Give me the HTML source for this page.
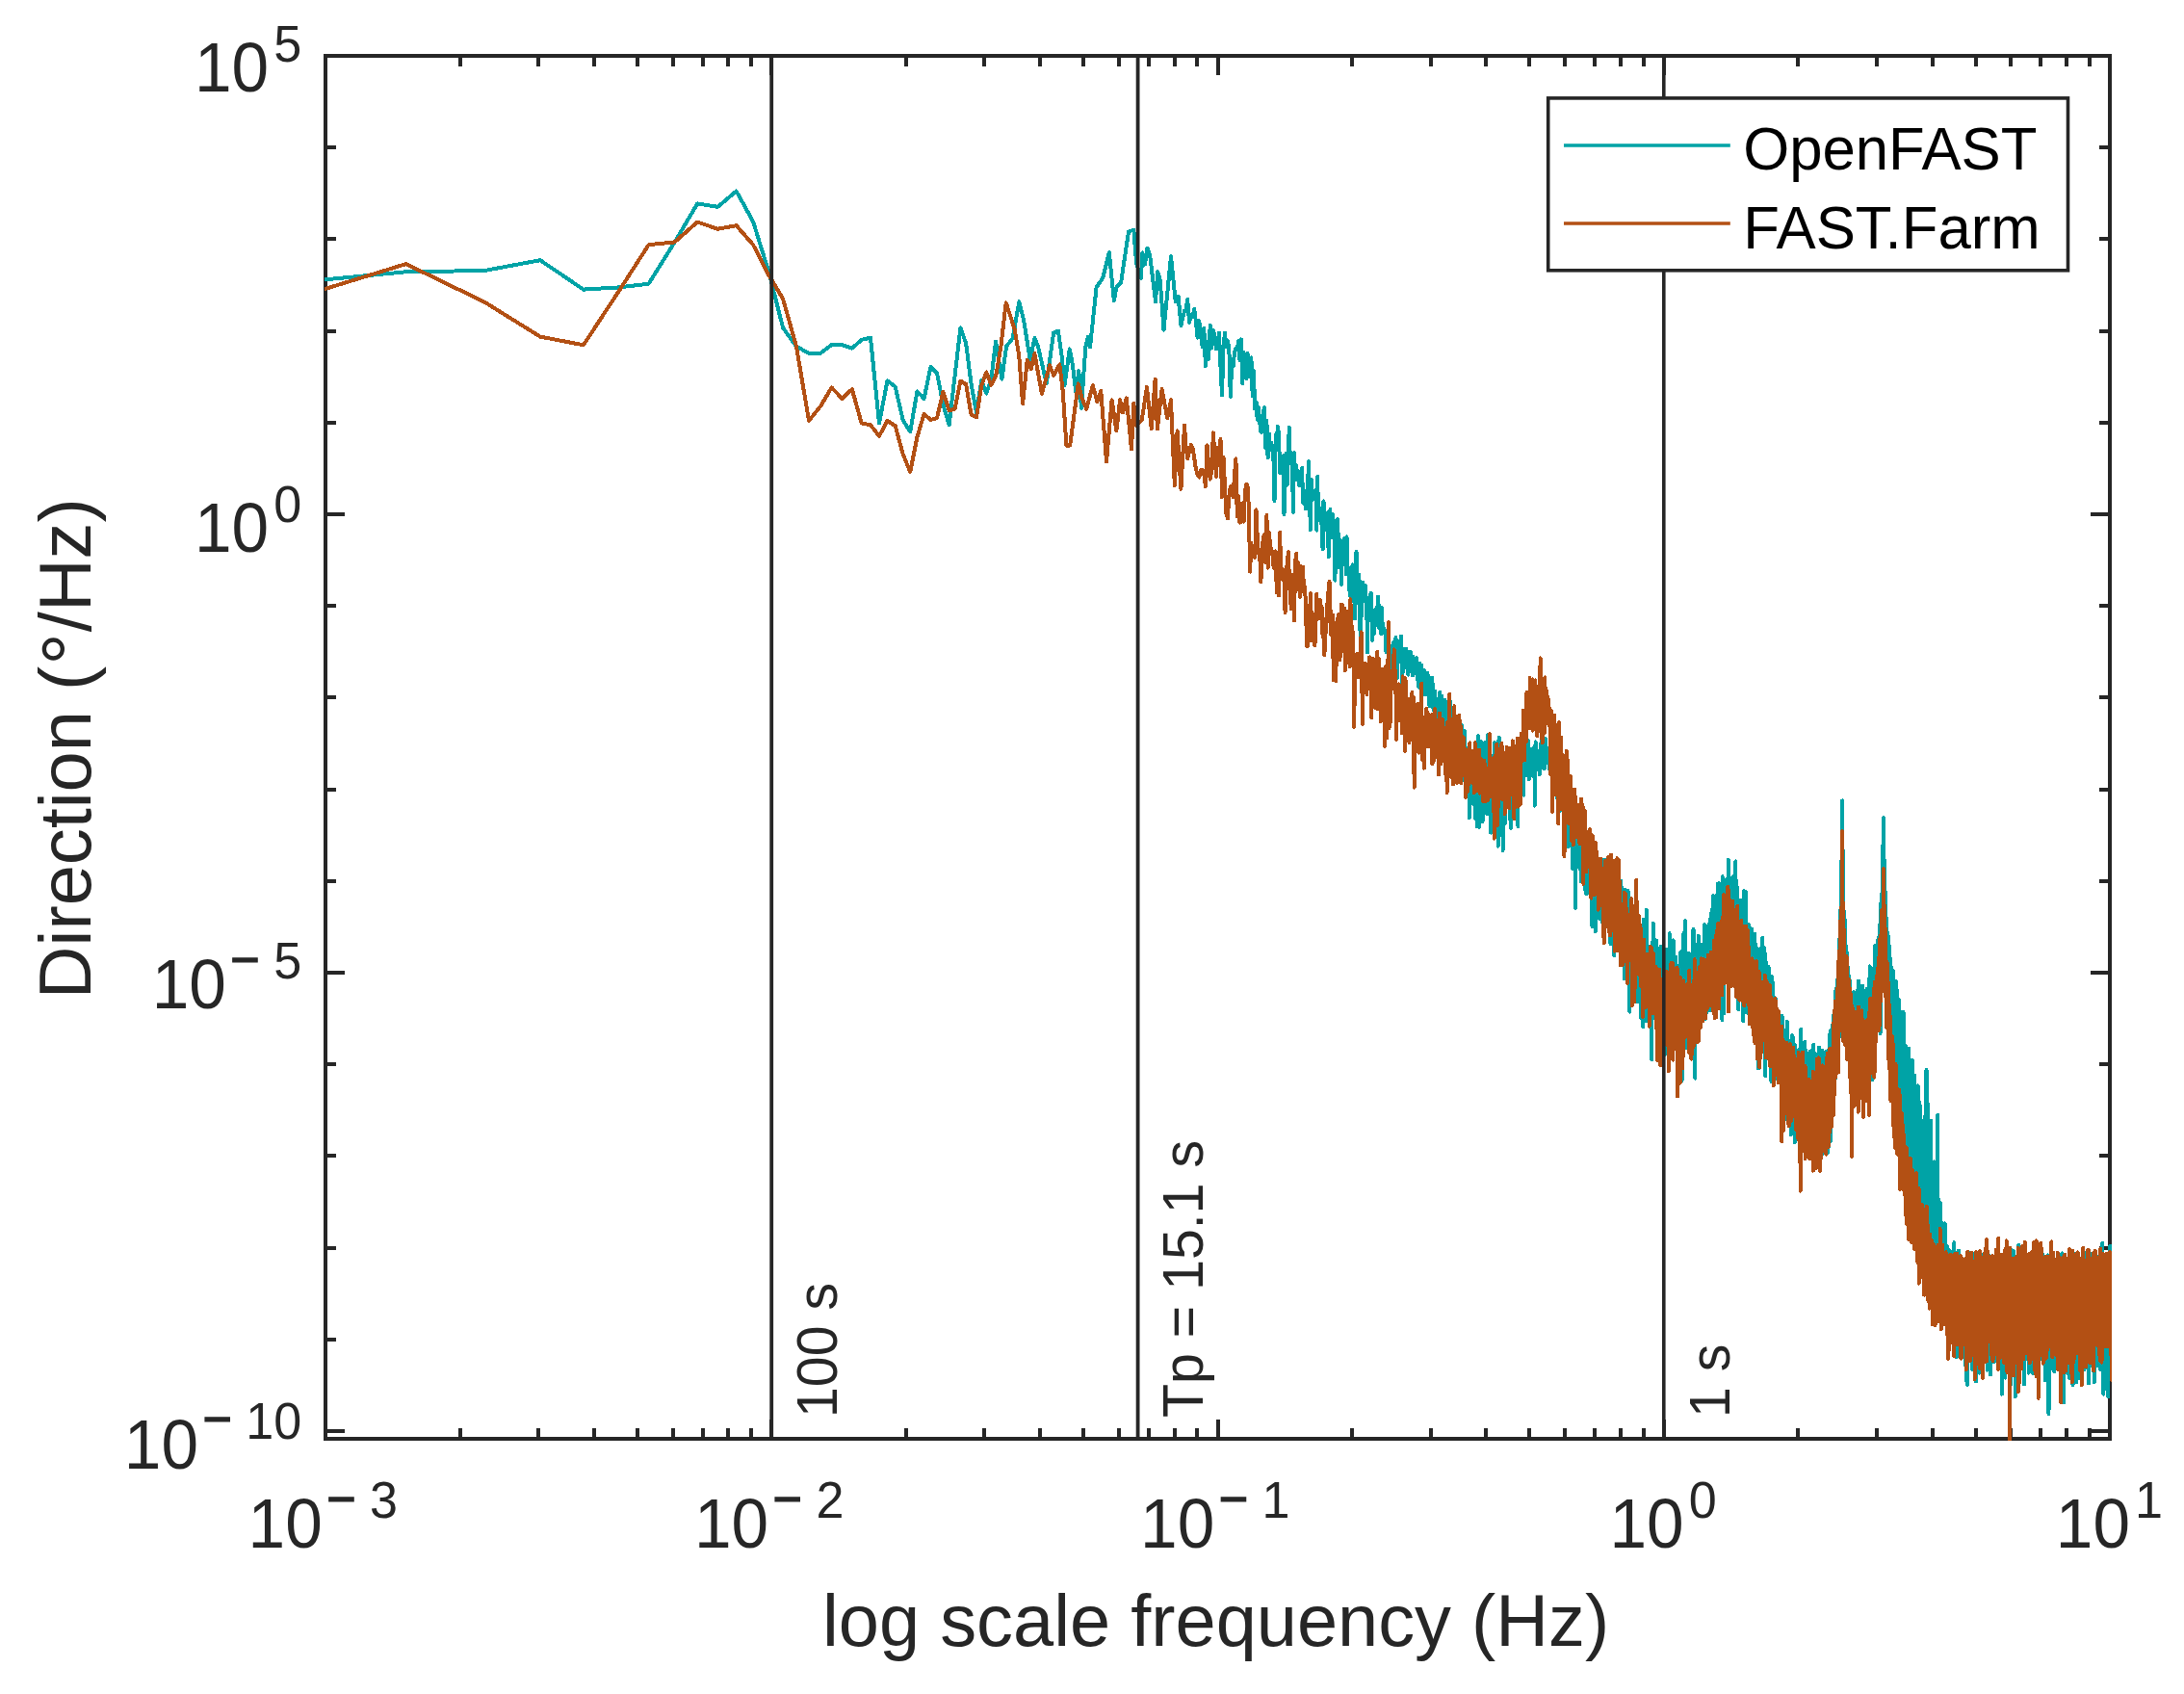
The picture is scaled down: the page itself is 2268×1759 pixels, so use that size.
<!DOCTYPE html>
<html lang="en"><head><meta charset="utf-8"><title>Direction spectrum</title>
<style>
html,body{margin:0;padding:0;background:#fff}
svg{display:block}
text{font-family:"Liberation Sans",sans-serif;}
.t{font-size:69.4px;fill:#262626}
.e{font-size:52.1px}
.l{font-size:75.8px;fill:#262626}
.m{stroke:#262626;stroke-width:1.3px}
.a{font-size:57.3px;fill:#262626}
.g{font-size:61.7px;fill:#000}
</style></head><body>
<svg width="2268" height="1759" viewBox="0 0 2268 1759">
<rect width="2268" height="1759" fill="#fff"/>
<defs><clipPath id="c"><rect x="337.0" y="56.0" width="1856.0" height="1440.0"/></clipPath></defs>
<path d="M477.5 1494.0v-11.0M477.5 58.0v11.0M559.0 1494.0v-11.0M559.0 58.0v11.0M616.9 1494.0v-11.0M616.9 58.0v11.0M661.8 1494.0v-11.0M661.8 58.0v11.0M698.5 1494.0v-11.0M698.5 58.0v11.0M729.5 1494.0v-11.0M729.5 58.0v11.0M756.4 1494.0v-11.0M756.4 58.0v11.0M780.1 1494.0v-11.0M780.1 58.0v11.0M801.2 1494.0v-20.0M801.2 58.0v20.0M940.7 1494.0v-11.0M940.7 58.0v11.0M1022.3 1494.0v-11.0M1022.3 58.0v11.0M1080.2 1494.0v-11.0M1080.2 58.0v11.0M1125.0 1494.0v-11.0M1125.0 58.0v11.0M1161.7 1494.0v-11.0M1161.7 58.0v11.0M1192.7 1494.0v-11.0M1192.7 58.0v11.0M1219.6 1494.0v-11.0M1219.6 58.0v11.0M1243.3 1494.0v-11.0M1243.3 58.0v11.0M1264.5 1494.0v-20.0M1264.5 58.0v20.0M1404.0 1494.0v-11.0M1404.0 58.0v11.0M1485.5 1494.0v-11.0M1485.5 58.0v11.0M1543.4 1494.0v-11.0M1543.4 58.0v11.0M1588.3 1494.0v-11.0M1588.3 58.0v11.0M1625.0 1494.0v-11.0M1625.0 58.0v11.0M1656.0 1494.0v-11.0M1656.0 58.0v11.0M1682.9 1494.0v-11.0M1682.9 58.0v11.0M1706.6 1494.0v-11.0M1706.6 58.0v11.0M1727.8 1494.0v-20.0M1727.8 58.0v20.0M1867.2 1494.0v-11.0M1867.2 58.0v11.0M1948.8 1494.0v-11.0M1948.8 58.0v11.0M2006.7 1494.0v-11.0M2006.7 58.0v11.0M2051.5 1494.0v-11.0M2051.5 58.0v11.0M2088.2 1494.0v-11.0M2088.2 58.0v11.0M2119.2 1494.0v-11.0M2119.2 58.0v11.0M2146.1 1494.0v-11.0M2146.1 58.0v11.0M2169.8 1494.0v-11.0M2169.8 58.0v11.0M338.0 1486.0h20.0M2191.0 1486.0h-20.0M338.0 1390.8h11.0M2191.0 1390.8h-11.0M338.0 1295.6h11.0M2191.0 1295.6h-11.0M338.0 1200.4h11.0M2191.0 1200.4h-11.0M338.0 1105.2h11.0M2191.0 1105.2h-11.0M338.0 1010.0h20.0M2191.0 1010.0h-20.0M338.0 914.8h11.0M2191.0 914.8h-11.0M338.0 819.6h11.0M2191.0 819.6h-11.0M338.0 724.4h11.0M2191.0 724.4h-11.0M338.0 629.2h11.0M2191.0 629.2h-11.0M338.0 534.0h20.0M2191.0 534.0h-20.0M338.0 438.8h11.0M2191.0 438.8h-11.0M338.0 343.6h11.0M2191.0 343.6h-11.0M338.0 248.4h11.0M2191.0 248.4h-11.0M338.0 153.2h11.0M2191.0 153.2h-11.0" stroke="#262626" stroke-width="4.0" fill="none" shape-rendering="crispEdges"/>
<rect x="338.0" y="58.0" width="1853.0" height="1436.0" fill="none" stroke="#262626" stroke-width="4"/>
<g clip-path="url(#c)" fill="none" stroke-width="4" stroke-linejoin="round" stroke-linecap="butt" shape-rendering="crispEdges">
<path stroke="#00a3a6" d="M282.1 295.6L421.6 282.3L503.2 281L561 270.2L605.9 300.6L642.6 298.4L673.6 294.7L700.5 251.7L724.2 211.4L745.4 214.8L764.6 198.5L782.1 230.1L798.2 282L813.1 340.4L827 359.9L840 366.6L852.1 366.6L863.6 358.1L874.5 358.1L884.8 361.6L894.7 352.8L904 350.7L913 439.5L921.5 395.3L929.7 401.5L937.6 436L945.2 448.4L952.5 406.3L959.6 413.9L966.4 381.1L973 387.3L979.4 420L985.6 441.3L991.6 390L997.4 340.4L1003.1 356.3L1008.6 398.8L1014 428.9L1019.2 395.3L1024.3 408.6L1029.3 393.5L1034.1 354.6L1040.4 393.6L1045.1 359.6L1051.7 351.1L1058.3 313.3L1063.1 332.2L1069.7 373.7L1074.4 351.1L1078.2 360.5L1086.7 398.3L1094.2 345.4L1098.9 343.5L1102.7 370L1105.5 400.2L1110.8 362.4L1114 379.4L1117.3 407.7L1120.3 385.1L1122.9 423.8L1127.3 360.5L1129.7 350.1L1132 360.5L1138.6 298.2L1145.2 288.8L1151.8 262.3L1156.9 312.4L1159.4 298.2L1164.1 293.5L1172 240.6L1177.3 238.7L1180.1 273.7L1184.9 288.8L1186.4 262.3L1189 274.6L1191.5 257.6L1194.3 266.1L1200 313.3L1202.2 282.2L1204.7 290.7L1208.5 342.6L1216 266.1L1220.7 313.3L1223.6 307.6L1226.4 337.9L1230 322.8L1231.4 321.9L1233.2 310.9L1235 334.7L1236.8 327.1L1238.5 328.9L1240.2 320.9L1241.9 333.6L1243.6 350.7L1245.3 333.1L1247 348L1248.7 360.2L1250.3 340.9L1251.9 380.2L1253.5 355L1255.1 372.7L1256.7 337.7L1258.3 361.4L1259.9 343.2L1261.4 347.9L1263 362.4L1264.5 355.9L1266 345.8L1267.5 380.9L1269 410.1L1270.5 361.3L1272 345.4L1273.4 360.1L1274.9 354.1L1276.3 360.6L1277.8 411.8L1279.2 377.1L1280.6 380.5L1282 365.7L1283.4 361.4L1284.8 363.3L1286.2 354.2L1287.5 374.2L1288.9 352.4L1290.2 398.4L1291.6 366.1L1292.9 388.3L1294.2 393.1L1295.5 367L1296.8 391.1L1298.1 388.8L1299.4 371.5L1300.7 411.1L1301.9 384.9L1303.2 424.7L1304.5 417.3L1305.7 435.7L1306.9 423.2L1308.2 437.9L1309.4 448.5L1310.6 448.7L1311.8 429.1L1313 423.4L1314.2 465.2L1315.4 437.1L1316.6 475.3L1317.8 450.3L1318.9 467.4L1320.1 459.6L1321.2 464.1L1322.4 474.7L1323.5 519.9L1324.7 451.7L1325.8 456.9L1326.9 442.8L1328 449.9L1329.1 490.8L1330.2 487.5L1331.3 490.9L1332.4 473.4L1333.5 534L1334.6 477.6L1335.6 471L1336.7 503.7L1337.8 469.8L1338.8 443.8L1339.9 480.6L1340.9 478.1L1342 487.3L1343 531.7L1344 470.1L1345.1 492.8L1346.1 483.4L1347.1 491.3L1348.1 497.3L1349.1 504.2L1350.1 493.4L1351.1 490.6L1352.1 485.8L1353.1 522.2L1354 519.3L1355 520.7L1356 528.2L1357 509.6L1357.9 511.8L1358.9 479.1L1359.8 504.9L1360.8 550.3L1361.7 497.6L1362.6 513.5L1363.6 518.6L1364.5 514.7L1365.4 510.2L1366.4 508.4L1367.3 550.6L1368.2 494.7L1369.1 539.6L1370 539.5L1370.9 529.2L1371.8 528.5L1372.7 549.1L1373.6 570.3L1374.5 520.3L1375.3 538.5L1376.2 544.8L1377.1 537.6L1378 551L1378.8 532.1L1379.7 578L1380.5 550.3L1381.4 529.1L1382.2 558L1383.1 534.1L1383.9 534.3L1384.8 541.6L1385.6 542.5L1386.4 602.6L1387.3 549.7L1388.1 555.7L1388.9 539.2L1389.7 557.2L1390.6 589.4L1391.4 563.4L1392.2 561.1L1393 606.7L1393.8 568.9L1394.6 571.3L1395.4 567.6L1396.2 558.6L1397 572.1L1397.8 596.3L1398.5 557.5L1399.3 586.7L1400.1 592.2L1400.9 597.6L1401.7 618.8L1402.4 598.7L1403.2 595L1404 589.5L1404.7 586.5L1405.5 623.9L1406.2 604.1L1407 642.4L1407.7 592.1L1408.5 572.8L1409.2 603.1L1410 626.3L1410.7 612.6L1411.4 596.9L1412.2 631L1412.9 683.7L1413.6 635.3L1414.3 622.3L1415.1 604.9L1415.8 618.7L1416.5 617.7L1417.2 616.3L1417.9 607.7L1418.6 628.4L1419.4 637L1420.1 677.4L1420.8 624.1L1421.5 620.3L1422.2 628.5L1422.8 636.1L1423.5 615.6L1424.2 617.8L1424.9 664.9L1425.6 634.4L1426.3 637.3L1427 657.8L1427.6 643.5L1428.3 632.5L1429 635.1L1429.7 630.3L1430.3 649.1L1431 619.6L1431.7 629.4L1432.3 652.5L1433 643.3L1433.7 638.7L1434.3 658.3L1435 631.2L1435.6 647.9L1436.3 650.3L1436.9 653.4L1437.6 655.7L1438.2 657.7L1438.8 657.9L1439.5 677L1440.1 671.2L1440.8 669.8L1441.4 653.5L1442 656.1L1442.7 673.3L1443.3 676.5L1443.9 672.1L1444.5 674.9L1445.2 673L1445.8 695.6L1446.4 678L1447 667.3L1447.6 702.9L1448.2 689.9L1448.8 682L1449.5 661.9L1450.1 691.2L1450.7 704.2L1451.3 667.4L1451.9 686.6L1452.5 666.5L1453.1 687.1L1453.7 674.6L1454.3 685.2L1454.9 660.5L1455.4 684.1L1456 710.4L1456.6 697L1457.2 673.7L1457.8 685.4L1458.4 674.7L1459 692.9L1459.5 675.5L1460.1 673.7L1460.7 681.9L1461.3 676.2L1461.8 684.1L1462.4 700.7L1463 690.6L1463.5 687.3L1464.1 683.2L1464.7 676.5L1465.2 683.5L1465.8 690.8L1466.4 685.7L1466.9 701.6L1467.5 681.9L1468 686.8L1468.6 699.4L1469.1 686.7L1469.7 697.1L1470.2 684.4L1470.8 683.3L1471.3 693.7L1471.9 693.9L1472.4 706.7L1472.9 702.8L1473.5 713.7L1474 692L1474.6 688.9L1475.1 715.1L1475.6 704.4L1476.2 691L1476.7 701.9L1477.2 712.2L1477.8 712.4L1478.3 701.2L1478.8 695.5L1479.3 711.8L1479.9 721.4L1480.4 698.5L1480.9 698.8L1481.4 711.7L1481.9 714.3L1482.5 699.1L1483 718.6L1483.5 707.3L1484 712.5L1484.5 733.3L1485 714.4L1485.5 732.3L1486 728.2L1486.5 730.6L1487 703.7L1487.5 708.4L1488.1 735L1488.6 734.3L1489.1 737.5L1489.6 718.7L1490 717.5L1490.5 736.1L1491 750.8L1491.5 749.9L1492 752.8L1492.5 726.2L1493 738.7L1493.5 731.2L1494 726.5L1494.5 750.3L1495 731.4L1495.4 718.8L1495.9 749.5L1496.4 737.5L1496.9 722.4L1497.4 736.2L1497.8 726.3L1498.3 761L1498.8 729.7L1499.3 741.9L1499.7 747L1500.2 726.8L1500.7 748.1L1501.2 733L1501.6 748.7L1502.1 742.6L1502.6 756.4L1503 756.1L1503.5 753.3L1504 753.2L1504.4 727.2L1504.9 750.6L1505.3 788.6L1505.8 774.6L1506.3 728.4L1506.7 743.3L1507.2 739.1L1507.6 801.4L1508.1 759.9L1508.5 748.2L1509 748.9L1509.4 778.3L1509.9 754.7L1510.3 755.5L1510.8 757.2L1511.2 777.6L1511.7 767.8L1512.1 777.4L1512.6 763.1L1513 749L1513.5 796.9L1513.9 751.4L1514.4 794.7L1514.8 792.1L1515.2 755.4L1515.7 779L1516.1 783.8L1516.5 768.6L1517 783L1517.4 778.4L1517.8 753L1518.3 810.5L1518.7 807.5L1519.1 784.2L1519.6 807L1520 804.6L1520.4 808.5L1520.8 758.5L1521.3 768.3L1521.7 800L1522.1 789.2L1522.5 780.5L1523 777.1L1523.4 827.2L1523.8 800.1L1524.2 812.6L1524.6 785.6L1525.1 806.1L1525.5 813.6L1525.9 849.2L1526.3 836.4L1526.7 828.9L1527.1 797.4L1527.6 834L1528 830L1528.4 815.8L1528.8 828.1L1529.2 813.9L1529.6 781.7L1530 834.4L1530.4 813.6L1530.8 834.6L1531.2 814.3L1531.6 843.3L1532 849.8L1532.4 806.3L1532.8 801.9L1533.2 846.6L1533.6 851.5L1534 858.2L1534.4 835.8L1534.8 764.2L1535.2 852.5L1535.6 791L1536 858.9L1536.4 791.7L1536.8 839.2L1537.2 790.1L1537.6 827.5L1538 770.3L1538.4 795.5L1538.8 801.9L1539.2 810.8L1539.6 853.1L1539.9 826.1L1540.3 800.8L1540.7 841.8L1541.1 820.1L1541.5 840.8L1541.9 805.1L1542.3 770.8L1542.6 821.5L1543 804.9L1543.4 829.4L1543.8 811.8L1544.2 845.5L1544.5 794.5L1544.9 805L1545.3 762.9L1545.7 793.1L1546.1 815.4L1546.4 793.1L1546.8 809.4L1547.2 814.7L1547.6 791.7L1547.9 864.2L1548.3 864.6L1548.7 816.7L1549 792.7L1549.4 810.9L1549.8 784.6L1550.1 811.7L1550.5 818.8L1550.9 793.7L1551.3 805.1L1551.6 811.7L1552 771.3L1552.3 811.5L1552.7 803.3L1553.1 807.5L1553.4 859L1553.8 851L1554.2 849.6L1554.5 819.5L1554.9 804.2L1555.2 786.2L1555.6 878.6L1556 825.4L1556.3 771.8L1556.7 765.6L1557 799.2L1557.4 766.8L1557.7 831.2L1558.1 856.5L1558.4 822.1L1558.8 810.9L1559.2 789.7L1559.5 799.1L1559.9 811L1560.2 819.1L1560.6 883.2L1560.9 818.2L1561.3 859.1L1561.6 841.7L1562 835L1562.3 799.9L1562.6 802.1L1563 816.8L1563.3 854.9L1563.7 816.1L1564 788.2L1564.4 799.3L1564.7 802.1L1565.1 826.2L1565.4 835L1565.7 808.4L1566.1 790.5L1566.4 820.6L1566.8 805.3L1567.1 789.5L1567.4 832.6L1567.8 821.1L1568.1 850.7L1568.5 836L1568.8 859.8L1569.1 818L1569.5 793.9L1569.8 804.4L1570.1 810.1L1570.5 804.1L1570.8 842.1L1571.1 833.1L1571.5 804.7L1571.8 823.8L1572.1 822.9L1572.4 814.3L1572.8 827.1L1573.1 809L1573.4 775.6L1573.8 807L1574.1 814.6L1574.4 798.7L1574.7 800.9L1575.1 841.7L1575.4 773.5L1575.7 806.3L1576 826.8L1576.4 858.1L1576.7 790.9L1577 792L1577.3 770.9L1577.7 824.2L1578 781.8L1578.3 786.3L1578.6 818.6L1578.9 779L1579.3 805.2L1579.6 815.9L1579.9 789.9L1580.2 818.6L1580.5 796.2L1580.8 796.2L1581.2 787.8L1581.5 791.8L1581.8 789.2L1582.1 825.7L1582.4 797.2L1582.7 795.6L1583 790.6L1583.4 798.9L1583.7 771.5L1584 797L1584.3 787.5L1584.6 782.6L1584.9 788.1L1585.2 805.6L1585.5 796.2L1585.8 787.7L1586.2 800.7L1586.5 782.1L1586.8 768.4L1587.1 787.7L1587.4 787.7L1587.7 809.4L1588 792.4L1588.3 795.6L1588.6 781.3L1588.9 797.6L1589.2 793.1L1589.5 793.7L1589.8 777.6L1590.1 802.2L1590.4 797.4L1590.7 804.5L1591 780.1L1591.3 800.5L1591.6 786.6L1591.9 778L1592.2 805.8L1592.5 784L1592.8 783.7L1593.1 791.4L1593.4 775.1L1593.7 836.6L1594 782.5L1594.3 778.2L1594.6 770.3L1594.9 775.3L1595.2 776.2L1595.5 792.7L1595.8 780.8L1596.1 787.2L1596.4 783L1596.7 779.4L1596.9 789.3L1597.2 791.9L1597.5 795L1597.8 785.6L1598.1 784.9L1598.4 799L1598.7 804.1L1599 783.5L1599.3 782.9L1599.6 798.6L1599.8 788.8L1600.1 786.6L1600.4 772.1L1600.7 769.3L1601 790.4L1601.3 767.7L1601.6 779.8L1601.9 776L1602.1 769.7L1602.4 795.4L1602.7 786.7L1603 780.1L1603.3 786L1603.6 785.2L1603.8 798.4L1604.1 795L1604.4 787.4L1604.7 790.5L1605 783.8L1605.2 767.2L1605.5 786.5L1605.8 789.3L1606.1 783.3L1606.4 792L1606.6 789.4L1606.9 779.5L1607.2 779.2L1607.5 777.1L1607.7 779.8L1608 783L1608.3 778.7L1608.6 787L1608.9 779.2L1609.1 798.3L1609.4 774.9L1609.7 789.3L1610 783.9L1610.2 787.5L1610.5 784L1610.8 799.2L1611 788.6L1611.3 787.7L1611.6 788.4L1611.9 804.1L1612.1 784L1612.4 795.1L1612.7 784.9L1612.9 793.8L1613.2 804.3L1613.5 806L1613.7 800.3L1614 822.8L1614.3 797.9L1614.6 805.7L1614.8 796.2L1615.1 812.1L1615.4 808L1615.6 822.7L1615.9 816.1L1616.2 808.1L1616.4 812.5L1616.7 820.1L1616.9 819L1617.2 810.9L1617.5 830L1617.7 794.5L1618 815.3L1618.3 854L1618.5 800.9L1618.8 842.9L1619 815.5L1619.3 805.9L1619.6 812.9L1619.8 804.8L1620.1 805.8L1620.4 825.1L1620.6 835.2L1620.9 824.9L1621.1 841L1621.4 823.6L1621.6 838L1621.9 816L1622.2 829.7L1622.4 833.3L1622.7 837.9L1622.9 819.2L1623.2 836.8L1623.4 828.4L1623.7 815.8L1624 822.6L1624.2 848L1624.5 830.5L1624.7 819.3L1625 838.7L1625.2 870.8L1625.5 849.4L1625.7 850.5L1626 840.2L1626.2 809.7L1626.5 832.4L1626.7 851.8L1627 827.7L1627.3 866.3L1627.5 851.8L1627.8 837.2L1628 851.7L1628.3 822.8L1628.5 826.5L1628.8 879.5L1629 844.7L1629.5 872.1L1629.7 874.2L1630 864.3L1630.2 859.3L1630.5 833.9L1630.7 845.8L1631 851L1631.2 854.3L1631.5 877.4L1631.7 867.4L1632 844.7L1632.2 849.9L1632.5 853.5L1632.7 891.1L1632.9 855.1L1633.2 902.3L1633.4 887.2L1633.7 854L1633.9 872L1634.2 846.3L1634.4 900.9L1634.6 856.4L1634.9 843.6L1635.1 840.1L1635.4 865.4L1635.6 840.2L1635.9 942.9L1636.1 888.8L1636.3 880.6L1636.6 860.3L1636.8 891.7L1637.1 865.6L1637.3 860.6L1637.5 841.7L1637.8 867.8L1638 894.1L1638.5 852.2L1638.7 900L1639 862.1L1639.2 871.7L1639.4 857.3L1639.7 868.3L1639.9 865.4L1640.1 860.2L1640.4 859.2L1640.6 902L1640.8 869.4L1641.1 879.7L1641.3 872.1L1641.6 852.8L1641.8 880.5L1642 915.2L1642.5 866.2L1642.7 897.6L1642.9 885L1643.2 879.6L1643.4 881.8L1643.6 888.9L1643.9 856.4L1644.1 874.5L1644.3 901.4L1644.6 910.5L1644.8 906.1L1645 868.6L1645.5 876.4L1645.7 891.6L1645.9 878.2L1646.2 890.9L1646.4 924.3L1646.6 887.9L1646.9 907.1L1647.1 906.6L1647.3 928.1L1647.5 901.6L1648 926.5L1648.2 912.2L1648.4 926.9L1648.7 892.2L1648.9 914.9L1649.1 900.6L1649.4 872.8L1649.6 897L1649.8 912.3L1650 892.7L1650.5 908.6L1650.7 903.3L1650.9 911.2L1651.1 919.5L1651.4 918L1651.6 901.3L1651.8 923.1L1652 882.4L1652.3 904.1L1652.7 905.2L1652.9 876.6L1653.1 890.8L1653.4 962.1L1653.6 887.5L1653.8 958.7L1654 945.6L1654.5 915.3L1654.7 925.8L1654.9 904.5L1655.1 890.4L1655.3 925.2L1655.6 887.1L1655.8 913.9L1656.2 900.3L1656.4 908.2L1656.6 921.3L1656.9 967.1L1657.1 894.9L1657.3 934.8L1657.5 901.8L1657.9 924.5L1658.2 902.6L1658.4 929.9L1658.6 948L1658.8 913L1659 926.3L1659.4 943.2L1659.7 952.7L1659.9 899.5L1660.1 914.4L1660.3 895.6L1660.5 948.7L1660.9 922.1L1661.2 922.1L1661.4 953.8L1661.6 926.9L1662 949.1L1662.2 939.3L1662.4 953.4L1662.6 931.6L1662.8 926.3L1663.1 935.5L1663.5 897.6L1663.7 922.5L1663.9 908.4L1664.1 957.5L1664.3 915.1L1664.7 955.5L1664.9 897.5L1665.1 951.2L1665.4 904.7L1665.6 932L1666 892.8L1666.2 905.1L1666.4 916.3L1666.6 940.6L1666.8 943.3L1667 936.6L1667.4 924.4L1667.6 921.6L1667.8 944L1668 943.4L1668.2 906.7L1668.6 945.2L1668.9 921.1L1669.1 907.4L1669.5 947.6L1669.7 933.8L1669.9 957L1670.1 936L1670.5 963.2L1670.7 930.3L1670.9 941.1L1671.1 958.7L1671.5 913.2L1671.7 942.2L1671.9 909L1672.3 912.3L1672.5 980L1672.7 917.9L1672.9 921.9L1673.1 916.8L1673.3 921.9L1673.7 935.3L1673.9 957.4L1674.3 942L1674.5 902.7L1674.7 945.8L1674.9 927.3L1675.3 919.7L1675.5 961.4L1675.7 930L1675.9 936.8L1676.1 927.6L1676.3 992.1L1676.7 924.4L1676.9 930.4L1677.1 893.8L1677.4 957.4L1677.6 925.4L1677.8 914.4L1678 912.7L1678.2 984.9L1678.6 936.4L1678.8 923.8L1679 970.9L1679.2 914.2L1679.6 959.6L1680 932.6L1680.2 959.2L1680.4 922.4L1680.6 932L1680.7 942.6L1681.1 932.7L1681.3 929.5L1681.7 939.3L1681.9 925.2L1682.3 929.9L1682.5 954.8L1682.7 948L1682.9 940.7L1683 959L1683.4 915L1683.8 932.5L1684 983.3L1684.2 952.5L1684.4 986.9L1684.8 960.3L1684.9 939.9L1685.1 941.4L1685.3 964.3L1685.7 938.2L1685.9 989.6L1686.1 934.4L1686.4 973.3L1686.6 1015.9L1686.8 951.6L1687 1003L1687.4 924.1L1687.7 961.2L1687.9 996.5L1688.1 973L1688.5 947.6L1688.7 953L1688.9 986.6L1689 957.8L1689.4 973.7L1689.6 980.6L1690 944.9L1690.2 981.5L1690.3 1006.9L1690.5 924.6L1690.7 961.1L1691.1 958.8L1691.3 980.6L1691.6 935.7L1691.8 1011.9L1692.2 960.3L1692.3 1050.6L1692.7 992.2L1692.9 967.9L1693.1 981.9L1693.3 999.7L1693.6 985.3L1694 950L1694.2 989.7L1694.3 1015.2L1694.7 1008.9L1694.9 947.9L1695.1 1023.9L1695.2 982.5L1695.6 978.8L1695.8 963.1L1696.1 1001.1L1696.3 1006.5L1696.7 1000.2L1696.8 986L1697 952.5L1697.2 1018.2L1697.5 975.3L1697.7 1013.7L1698.1 1021.8L1698.4 987.4L1698.8 1019.5L1699 985.8L1699.1 991.8L1699.5 1039.9L1699.7 1021.2L1699.8 977.2L1700 936.6L1700.2 1014.5L1700.5 1034.8L1700.9 975.6L1701.2 1001.9L1701.4 1022L1701.6 1026.4L1701.8 958.8L1702.1 999L1702.3 1037.1L1702.6 1040.5L1702.8 981.6L1703.1 972.1L1703.5 1029.9L1703.7 1056.6L1704 993.3L1704.2 1000.2L1704.3 991.1L1704.5 996.7L1704.9 971.4L1705 1015.8L1705.4 977.3L1705.7 1012.7L1705.9 983.2L1706 1012.8L1706.4 1066.2L1706.6 1012.1L1706.9 954.6L1707.2 990.2L1707.4 1013.1L1707.6 976L1707.7 1026.7L1708.1 956.6L1708.4 1014.1L1708.7 1011.2L1708.9 996.6L1709.1 988.2L1709.4 1012.5L1709.6 1060L1709.7 944.9L1710.2 976.6L1710.4 1042.4L1710.6 993.4L1710.7 1009.8L1711.2 1007.1L1711.4 1026.1L1711.7 1012.5L1711.9 1040L1712.1 1026.6L1712.4 1003.1L1712.6 1036.3L1712.7 983L1713.2 1058L1713.4 999.8L1713.7 999.8L1713.9 1032.2L1714 1024.1L1714.4 984.5L1714.5 1018.3L1714.7 1005.8L1715 1010.2L1715.2 1100.3L1715.7 1015.6L1716 978.6L1716.3 1053L1716.5 1010.4L1716.8 1034.3L1716.9 958.8L1717.1 996.5L1717.4 1028.4L1717.6 1030L1717.8 1007.1L1718.2 1046.4L1718.4 992L1718.6 998.2L1718.9 1057L1719 996.6L1719.2 1049.7L1719.8 976.3L1720 1034.9L1720.1 996.3L1720.5 1040.4L1720.6 1058.1L1720.8 1008.4L1721.1 986.6L1721.2 1037.8L1721.6 1072.8L1721.7 1029.5L1722 1036.8L1722.2 995.6L1722.7 1000.2L1722.8 1068.6L1723.1 1014.5L1723.3 1063.1L1723.7 995.8L1723.9 1040L1724.1 1005.3L1724.2 1094.1L1724.5 982.8L1724.8 1053.7L1725.3 1003.2L1725.5 1021.1L1725.6 990.8L1725.8 1018.3L1726.2 1026.6L1726.4 1056.1L1726.7 993L1726.8 1041.3L1727.3 1006.7L1727.4 1046.3L1727.6 1017.7L1727.8 1002.4L1728.2 1015.9L1728.4 1020.7L1728.8 1051.9L1729 989.5L1729.3 1024.6L1729.4 1094.6L1729.6 1030L1729.9 998.7L1730.2 1005.5L1730.3 1066L1730.6 986.1L1730.9 1045.1L1731.2 1070.2L1731.4 1033.6L1731.5 1061L1731.7 1005.4L1732.1 997.8L1732.4 1041.5L1732.6 1019.3L1732.9 992.5L1733.2 1030.7L1733.5 1003.2L1733.6 969.2L1733.9 1056.1L1734.1 1074.6L1734.5 994.8L1734.8 1027.4L1734.9 994L1735.1 1028.6L1735.2 1009.2L1735.5 993.1L1735.7 1055.6L1736.1 1008.3L1736.4 1057.8L1736.5 1045.9L1736.7 1015L1737.1 1030.7L1737.3 1017.8L1737.6 1021.7L1737.7 976.3L1738 1044.7L1738.3 1008.9L1738.6 1017.8L1738.9 1036L1739.2 1046.1L1739.3 1013.9L1739.7 1003.8L1739.9 1018.4L1740.2 1035.4L1740.4 994L1740.6 1015.9L1740.7 1040.2L1741.3 1039.4L1741.4 1050L1741.6 1076.6L1741.9 1002.9L1742 1035.4L1742.2 1009.3L1742.6 1026.8L1742.7 1005.4L1743 1009.1L1743.4 1049.6L1743.6 1027.8L1744 1050.3L1744.1 1010.6L1744.3 1052.2L1744.6 1041.6L1745 990.2L1745.1 1033L1745.3 988.4L1745.5 1008.4L1746 1109.6L1746.1 1023.6L1746.2 1094.8L1746.5 1015.6L1746.6 1122.1L1747.2 1024.5L1747.3 1069L1747.6 1029.7L1747.8 1045.8L1748.2 1041.5L1748.4 969L1748.7 1031L1749 976.1L1749.1 1036.4L1749.4 1051.4L1749.5 1052.9L1750 1013.6L1750.1 1062.2L1750.2 956.1L1750.6 1012L1750.8 1062.6L1751.2 1020.6L1751.4 1065.1L1751.6 1088.1L1751.7 1025.6L1752.3 1035.9L1752.4 1004.9L1752.7 1012.2L1752.8 1054.3L1753.1 995.9L1753.3 1062.7L1753.7 990L1753.9 1033.8L1754 1010.5L1754.4 1052.2L1754.5 1073.4L1754.8 1039.6L1755.2 1007.4L1755.5 1048.7L1755.7 1075.7L1755.9 1039.7L1756 1062.2L1756.1 1034.3L1756.5 1099.8L1756.8 999.7L1757.1 1073L1757.3 1030.5L1757.7 1018.6L1758 1061.1L1758.1 1045.7L1758.4 993.1L1758.5 964.8L1758.6 1046.5L1759 994.1L1759.4 1056.9L1759.5 1072L1759.7 994.7L1760.3 1119.6L1760.5 986.6L1760.7 1019.9L1760.8 1042.1L1761.2 1003.4L1761.5 1047.8L1761.6 1029L1761.9 1006.4L1762.3 1025.5L1762.4 985.5L1762.5 991.9L1762.8 1008.3L1763.2 980.4L1763.4 1016L1763.8 1045.2L1763.9 971.9L1764 982.7L1764.4 1057.4L1764.6 1058.6L1764.9 1004.5L1765.1 1058.8L1765.4 1016.2L1765.8 1049.3L1765.9 999.5L1766.2 1036.7L1766.3 993L1766.8 980.6L1767 1054.2L1767.1 995.9L1767.3 1052.6L1767.6 1055.9L1767.7 998.3L1768.3 1011.3L1768.5 1033.7L1768.6 1005.1L1768.7 987.7L1769.1 1050.6L1769.4 985.4L1769.7 1046.1L1769.9 960.1L1770.1 986.6L1770.2 1041.6L1770.6 960.6L1770.9 1057.8L1771.1 1014.6L1771.4 1052.6L1771.5 1000.1L1771.9 1051.6L1772.3 1027.2L1772.4 989.5L1772.5 1043.9L1772.6 996.6L1773 1029.5L1773.5 979.3L1773.6 994.9L1773.9 1037.3L1774.2 1031.2L1774.5 959.7L1774.7 961.1L1774.9 1010.4L1775.1 978.8L1775.4 1007L1775.7 966.9L1775.9 1049L1776.1 1047L1776.4 958.8L1776.6 948.2L1776.7 1012.1L1777.1 963.1L1777.2 1013L1777.6 944.6L1777.9 1001.7L1778.1 985.4L1778.4 975.2L1778.6 967.5L1778.8 1011.1L1779 930.2L1779.1 1007.1L1779.6 1010L1779.9 981.2L1780.1 1020.2L1780.4 987.1L1780.5 970.9L1780.9 1050.5L1781 990.8L1781.1 946L1781.7 1005.1L1781.8 968.9L1782.3 996.7L1782.4 929.7L1782.6 1026L1782.7 982.3L1783.2 989.4L1783.3 950.5L1783.7 957.3L1783.9 1002.4L1784 917.4L1784.1 989.5L1784.7 951.9L1784.9 917.2L1785.1 933L1785.4 991.9L1785.5 936.2L1785.7 1021.9L1786.1 951.7L1786.4 1032.7L1786.7 924.7L1787 960.8L1787.1 947.4L1787.3 962.2L1787.6 946.8L1787.9 1010.7L1788 948.3L1788.4 1059L1788.6 910.2L1788.9 972.4L1789.3 983.8L1789.4 917.4L1789.8 937.7L1789.9 964L1790.4 1052L1790.5 918.8L1790.7 942.8L1790.8 1013.4L1791 940L1791.2 988.5L1791.8 1004L1791.9 951.7L1792.2 992.5L1792.4 928.1L1792.6 922.9L1792.9 972.8L1793 913.3L1793.5 954.4L1793.8 920L1793.9 989.4L1794 938L1794.4 976.5L1794.6 964.2L1794.7 892.7L1795 930L1795.4 988.7L1795.7 976.7L1795.9 935.3L1796.2 931.5L1796.4 978.8L1796.7 930.8L1797 989.2L1797.3 973.7L1797.4 933.8L1797.7 983.4L1797.9 924L1798.1 928L1798.4 985.6L1798.7 951.1L1798.8 913.3L1799.1 977L1799.4 910.4L1799.5 921.2L1800 994.5L1800.1 920.9L1800.3 1005.7L1800.7 996.9L1800.9 941.1L1801.1 934L1801.4 995.9L1801.6 1009.6L1801.7 927.1L1802.1 999.6L1802.3 894.4L1802.5 942.2L1802.9 1030L1803 967.9L1803.3 915L1803.9 928.9L1804 965.4L1804.3 951.4L1804.4 985.1L1804.8 948.3L1804.9 979.9L1805.3 1048L1805.4 942.7L1805.6 1029.3L1805.9 960.8L1806.3 1034.5L1806.4 949.2L1806.9 999.2L1807 944L1807.3 997.1L1807.5 940.9L1807.6 934.9L1807.8 992L1808.1 956.3L1808.3 982.7L1808.5 955.6L1808.8 1031.7L1809 1002.2L1809.4 954.2L1809.6 952.7L1809.9 1001.1L1810.2 1060.2L1810.3 951.8L1810.7 985.9L1810.8 943.8L1811 925.2L1811.2 977.4L1811.7 962.7L1811.8 1011.8L1812.2 960.4L1812.3 1009.8L1812.7 1008.9L1812.9 925.7L1813 1006.7L1813.4 939.9L1813.5 998.2L1813.6 959.8L1814 971.4L1814.1 1051.7L1814.8 1020.3L1814.9 970.1L1815.1 1045.1L1815.3 1002.5L1815.6 1027.9L1815.8 960.1L1816 1028.3L1816.4 969.3L1816.6 971L1816.9 1026L1817.1 988.7L1817.4 1020.2L1817.9 981.7L1818 1037.6L1818.4 1014.6L1818.5 964.2L1818.7 1017.1L1818.8 971L1819 1029.4L1819.2 964.7L1819.6 970.6L1819.8 1029.1L1820.1 982.9L1820.3 1023.2L1820.7 971L1821 1052.8L1821.1 1003.7L1821.2 974.7L1821.6 987.6L1821.9 1029.3L1822 1022.8L1822.1 969.5L1822.7 1056.6L1822.9 1023.2L1823.1 1032L1823.3 980.5L1823.5 1047.7L1823.6 1014.7L1824.4 1043.6L1824.5 984.2L1824.6 1002.4L1825 1033.5L1825.1 1046L1825.4 995.5L1825.5 988L1825.8 1088.5L1826.1 1109.3L1826.4 1013.7L1826.7 1063.4L1826.8 1013.1L1827.3 1002.4L1827.4 1052.5L1827.8 985.4L1827.9 1069.4L1828.4 1049.9L1828.5 995.1L1828.8 986.3L1829 1075.9L1829.3 1013.8L1829.4 1033.7L1829.7 999.7L1829.8 1039.8L1830.2 973.5L1830.3 1064.4L1830.7 1047.5L1831 990.3L1831.2 1034.8L1831.4 1018.5L1831.6 1007.7L1831.7 1043.5L1832.1 1038.1L1832.3 984.3L1832.5 1072.3L1832.6 1016.9L1833.1 1117L1833.2 991L1833.5 1074.7L1833.6 997.9L1834.1 1021.9L1834.1 1071.7L1834.8 1048.1L1835 1016.4L1835.1 1008.5L1835.3 1075.9L1835.7 1038.1L1835.8 1082.2L1836 1025.5L1836.5 1045.9L1836.6 1004.2L1836.8 1058.8L1837 1072.1L1837.3 1031.9L1837.8 1028.1L1838 1086.3L1838.1 1083.8L1838.4 1045.2L1838.6 1066.3L1838.9 1043.7L1839.3 1042.1L1839.5 1122.9L1839.8 1032.3L1840 1068.7L1840.2 1014.1L1840.4 1095.3L1840.5 1096.9L1840.7 1019.6L1841.2 1096.2L1841.5 1047.6L1841.7 1095.7L1841.9 1039.6L1842.2 1035.8L1842.3 1074.9L1842.5 1068.5L1842.7 1121L1843.1 1036.7L1843.2 1103.5L1843.6 1036.7L1844 1066.3L1844.2 1050L1844.4 1102.3L1844.7 1055.3L1844.9 1087.6L1845.2 1117.9L1845.4 1076.6L1845.8 1063.7L1845.9 1107.5L1846.1 1095.4L1846.2 1050.9L1846.5 1064.1L1846.8 1100.6L1847.1 1067.3L1847.4 1097.1L1847.6 1097.2L1847.7 1060.6L1848.4 1058.6L1848.4 1105L1848.8 1110.6L1848.9 1056.9L1849 1100.6L1849.3 1079.1L1849.7 1100.1L1849.9 1072.4L1850 1136L1850.2 1069.2L1850.5 1054.8L1850.9 1107.1L1851 1086.1L1851.2 1118.8L1851.8 1088.3L1851.9 1139.8L1852.2 1106.3L1852.3 1083.3L1852.7 1080.5L1853 1117.8L1853.2 1119.1L1853.4 1073.8L1853.7 1137.9L1853.8 1084.7L1854.1 1085.9L1854.3 1133.4L1854.8 1137L1854.9 1091.6L1855.1 1162.7L1855.2 1076.5L1855.8 1060.5L1856 1142.6L1856.3 1160.3L1856.4 1103.4L1856.6 1142.9L1856.7 1084.3L1857.1 1162.2L1857.3 1086.1L1857.6 1090.9L1857.8 1134.9L1858.3 1136L1858.4 1080.8L1858.6 1144.1L1859 1097.9L1859.1 1090L1859.4 1146.4L1859.5 1082.2L1859.7 1178.3L1860.1 1081.1L1860.5 1140.8L1860.6 1149.6L1860.9 1075.1L1861.1 1132.8L1861.2 1102.2L1861.8 1170.8L1861.9 1102L1862 1148.7L1862.4 1077.8L1862.6 1147.8L1863 1093.3L1863.1 1100.6L1863.4 1136.3L1863.5 1084.2L1863.9 1186.2L1864.1 1144.5L1864.2 1099.6L1864.9 1183.7L1865 1097.5L1865.1 1095.7L1865.3 1156.8L1865.7 1169.2L1865.9 1091.1L1866.1 1092.9L1866.4 1150.8L1866.5 1148.2L1866.6 1100.8L1867.3 1152.8L1867.4 1108L1867.6 1115.9L1867.7 1162.9L1868.1 1100.4L1868.5 1167.9L1868.6 1089.3L1868.9 1165.6L1869 1101.1L1869.5 1134.8L1869.6 1107.2L1869.9 1132L1870.2 1068.8L1870.5 1152.4L1870.8 1099.4L1870.9 1173.1L1871.1 1096.5L1871.3 1153.3L1871.6 1085.6L1871.7 1148L1872.2 1147.5L1872.4 1113.8L1872.7 1175.9L1872.8 1106L1873.1 1103.9L1873.4 1167.4L1873.6 1113.3L1873.9 1169.9L1874 1175.4L1874.4 1081.5L1874.8 1109.9L1874.9 1163.1L1875.2 1162L1875.3 1115L1875.6 1146.2L1875.9 1102.2L1876.2 1138L1876.4 1101.2L1876.5 1101.2L1876.7 1155.6L1877 1168.3L1877.2 1096L1877.7 1148.1L1878 1110.3L1878.2 1108.7L1878.4 1197.8L1878.5 1101.9L1878.9 1187.8L1879.3 1194.9L1879.4 1092L1879.7 1112L1879.8 1178.7L1880.1 1103.1L1880.5 1176.4L1880.8 1149.7L1880.9 1106.8L1881 1188.2L1881.5 1090.6L1881.7 1115.1L1881.8 1184.2L1882.2 1167.8L1882.5 1116.9L1882.6 1113.8L1882.9 1188.1L1883.2 1170.2L1883.3 1084.6L1883.8 1162.3L1883.9 1111.5L1884.4 1100.9L1884.5 1192L1884.8 1165.2L1884.8 1104.5L1885.3 1143.1L1885.5 1094.5L1885.7 1182L1885.8 1117.5L1886.1 1179.9L1886.4 1138.8L1886.9 1179.1L1887 1102.2L1887.1 1098.5L1887.3 1172.7L1887.7 1111.7L1887.8 1184.3L1888.1 1143.1L1888.4 1188.9L1888.6 1111.7L1889 1156.5L1889.1 1087.6L1889.4 1144L1889.8 1163.5L1889.9 1129.2L1890 1160.7L1890.2 1106.2L1890.8 1092.7L1890.9 1147.4L1891.2 1133.1L1891.3 1152.7L1891.6 1127.8L1891.8 1169.3L1892.1 1194.6L1892.4 1091.1L1892.7 1197.9L1892.9 1092.5L1893.3 1110.8L1893.5 1157L1893.7 1121.9L1893.7 1141.1L1894.1 1188.9L1894.3 1108.3L1894.6 1181.3L1895 1105.3L1895.2 1154.8L1895.5 1110.3L1895.8 1100.2L1895.8 1170.8L1896.1 1138.9L1896.3 1105.1L1896.8 1112L1896.8 1184.2L1897 1134.7L1897.2 1091.4L1897.8 1103.4L1898 1141.1L1898.3 1097.1L1898.4 1154.3L1898.5 1196.6L1898.8 1104.1L1899.4 1098.8L1899.5 1152.2L1899.6 1087.6L1899.7 1151.2L1900.4 1073.4L1900.5 1155.8L1900.6 1075.8L1900.7 1124.6L1901.1 1184.8L1901.1 1070.1L1901.7 1082.1L1901.8 1143.7L1902.2 1146L1902.4 1070L1902.5 1071.5L1902.9 1118.4L1903.1 1134.8L1903.4 1063.1L1903.8 1115.3L1903.9 1054.6L1904.1 1066.3L1904.3 1104.1L1904.9 1103.2L1905 1059.8L1905 1096.5L1905.3 1058.9L1905.7 1120L1905.7 1069.5L1906.1 1028.8L1906.4 1113.5L1906.5 1107.9L1906.9 1049.1L1907.1 1092.7L1907.3 1026.1L1907.8 1071.1L1908 1017.6L1908 1029.3L1908.4 1087.8L1908.7 998.7L1908.8 1068.1L1909.1 1026.2L1909.2 1084.4L1909.7 1045.2L1909.9 1005L1910.1 1065.6L1910.3 974.4L1910.7 1056.7L1910.9 986.7L1911.2 1044.4L1911.2 944.6L1911.5 1076L1911.7 946.6L1912.1 1024.9L1912.4 906.1L1912.5 893.2L1912.7 988.1L1913.2 831.4L1913.4 1062.3L1913.9 919.9L1914 985.7L1914.3 884L1914.4 1026.7L1914.7 945.4L1914.8 1016.4L1915.1 951.9L1915.4 1006.2L1915.6 1069.1L1915.7 972.3L1916.1 955.4L1916.3 1054.1L1916.6 1036.4L1916.6 998L1917.1 982.5L1917.4 1051.9L1917.7 988.1L1917.9 1078.5L1918.2 1013.3L1918.5 1097.9L1918.7 1017.8L1918.8 1071.2L1919.4 1005L1919.5 1063.5L1919.6 1088.6L1919.9 1013.3L1920.2 1083.9L1920.3 1022.6L1920.6 1078.8L1920.8 1017.8L1921.2 1021L1921.2 1116L1921.6 1043.2L1921.9 1111.2L1922.3 1043.9L1922.4 1122.2L1922.6 1107.9L1922.8 1037.4L1923.1 1104.3L1923.2 1041.8L1923.8 1042.2L1923.9 1091.7L1924.3 1101.6L1924.5 1053.7L1924.6 1100.3L1924.9 1030.3L1925.1 1090.8L1925.4 1035.3L1925.5 1046.5L1925.9 1137.6L1926.2 1114L1926.2 1041.7L1926.6 1104.8L1926.6 1057.9L1927.2 1033.9L1927.2 1120.9L1927.5 1033.8L1928 1117.8L1928.1 1080L1928.3 1044.9L1928.6 1103.1L1928.9 1028.2L1929 1110.3L1929.2 1028.8L1929.8 1027.3L1929.9 1109.6L1930 1018.7L1930.5 1124.5L1930.6 1022.4L1930.9 1090L1931.4 1133.3L1931.5 1044.8L1931.8 1058.1L1932 1096.2L1932.3 1052L1932.4 1102.5L1932.7 1126.2L1933 1046.9L1933.1 1128.5L1933.4 1050.9L1933.7 1041L1934 1104.5L1934 1023.4L1934.1 1123.1L1934.5 1082.7L1934.6 1045.7L1935.3 1051.7L1935.4 1124.7L1935.7 1047.1L1935.9 1123.6L1936 1118.9L1936.4 1051.1L1936.5 1041.4L1936.9 1085.8L1937 1095L1937.1 1036.7L1937.7 1031.4L1937.9 1085.1L1938.1 1085L1938.4 1026.9L1938.6 1089.2L1938.8 1032.7L1939.4 1041.3L1939.5 1109.6L1939.6 1105.7L1939.8 1034.8L1940.1 1039.6L1940.4 1112.2L1940.6 1097.2L1940.7 1032L1941.1 1015.9L1941.3 1130.8L1941.6 1107.5L1941.7 1003.3L1942.2 1091.1L1942.3 1035.8L1942.8 1018L1942.9 1092L1943 1094.2L1943.4 1013.6L1943.8 1115.2L1943.8 1027.3L1944.3 1016.1L1944.3 1121.1L1944.6 1076.8L1944.9 1035.2L1945.1 1063.8L1945.5 1011.9L1945.7 1005.4L1945.9 1063.6L1946 1025.1L1946.1 1095.4L1946.8 1014.1L1946.9 1081.5L1947.1 996.3L1947.3 1099.1L1947.5 981.5L1947.8 1051.9L1948 1082L1948.1 1010L1948.6 1050.8L1948.8 996.2L1949.3 990L1949.4 1063.6L1949.7 1048.3L1949.9 999.7L1950.3 975.7L1950.3 1067L1950.8 1052.9L1951 973.1L1951.2 974.8L1951.4 1043.8L1951.5 1027.7L1951.7 987.1L1952.4 1042.2L1952.4 959.8L1952.6 958.8L1952.6 1073.2L1953.1 998.7L1953.5 937.4L1953.5 1019.8L1953.7 928.7L1954.1 1023.9L1954.4 933L1954.7 970.1L1954.7 909L1955.2 878L1955.2 955.2L1955.8 849.1L1956 958.2L1956.3 906.1L1956.5 971L1956.6 950.1L1956.7 892.7L1957.1 899.8L1957.2 987L1957.9 926.1L1958 977.1L1958 1000.9L1958.4 952.1L1958.6 952.5L1958.7 991.1L1959.1 959.7L1959.2 1006.3L1959.6 1035.4L1959.9 972.9L1960.3 1001.4L1960.5 969.2L1960.5 968.9L1960.9 1018.9L1961.1 988.2L1961.2 1044.8L1961.5 987.9L1961.9 1021.2L1962.1 982.3L1962.5 1058.8L1962.7 994.2L1962.8 1030.3L1963.1 999.8L1963.2 1052.3L1963.6 1015.4L1963.8 1058.8L1964.2 1077.4L1964.4 1004.7L1964.7 1092.6L1964.7 1015.9L1965.4 1023.5L1965.4 1077.2L1965.6 1079.4L1965.9 1008.1L1966.2 1026.8L1966.5 1089.8L1966.6 1030L1967 1084.3L1967.2 1034.8L1967.3 1077.4L1967.7 1128.6L1967.8 1029.2L1968.1 1100.7L1968.4 1029.5L1968.6 1112.2L1969 1019.3L1969 1090.7L1969.3 1052.9L1969.7 1130.8L1969.7 1050.1L1970.3 1117.4L1970.4 1029L1970.5 1035.4L1970.8 1098L1971.2 1038.8L1971.3 1105L1971.6 1135.9L1971.7 1037.9L1972 1053.7L1972.2 1141.1L1972.6 1062.1L1972.9 1118L1973.3 1157.2L1973.5 1062L1973.5 1075.7L1973.6 1126.1L1974.1 1050.5L1974.3 1115.2L1974.8 1061.8L1974.8 1147.8L1975.2 1065.6L1975.3 1169.6L1975.6 1149L1976 1063L1976.1 1138.3L1976.5 1050.8L1976.8 1180.5L1976.9 1103.4L1977.3 1084.6L1977.4 1162.9L1977.7 1086.1L1977.9 1181.6L1978.2 1141.9L1978.3 1102.5L1978.5 1086.9L1978.6 1152.8L1979 1168.1L1979 1086.2L1979.6 1105L1979.6 1195.2L1980 1195.3L1980.3 1105.7L1980.6 1185.7L1981 1095.1L1981.1 1107L1981.4 1189.2L1981.7 1156.8L1982 1088.6L1982.1 1199.9L1982.2 1106.8L1982.6 1106.2L1982.7 1194.6L1983.1 1105.6L1983.2 1175.8L1983.6 1216.7L1983.8 1116.3L1984.1 1122.9L1984.4 1215.5L1984.7 1120.9L1984.9 1186L1985.2 1125.4L1985.5 1209.7L1985.6 1226.2L1985.8 1101L1986.2 1213L1986.3 1146.2L1986.8 1206.5L1987 1130.9L1987 1127.4L1987.4 1223.3L1987.6 1228.7L1987.7 1122.1L1988.1 1116.7L1988.4 1206.1L1988.5 1210.5L1988.9 1146.9L1989.1 1235.1L1989.1 1166L1989.5 1205.1L1989.8 1150L1990.4 1240.4L1990.5 1160.8L1990.9 1238.7L1991 1154.4L1991.1 1160.6L1991.4 1292L1991.5 1127.3L1991.6 1227L1992.2 1252.2L1992.3 1149.8L1992.6 1243.1L1992.9 1149.8L1993 1145L1993.5 1254.1L1993.5 1147.3L1993.9 1281.5L1994.1 1230.3L1994.2 1166.1L1994.5 1288.7L1994.7 1170.8L1995 1253.4L1995.2 1172.8L1995.6 1230.1L1995.8 1168L1996.3 1187.5L1996.5 1263.6L1996.9 1270.9L1996.9 1184.9L1997.1 1243L1997.5 1163.4L1997.6 1182.9L1998 1260.8L1998.2 1272.8L1998.5 1182.8L1998.9 1159.6L1999 1261.5L1999.2 1186L1999.3 1247.6L1999.7 1190.1L1999.9 1327.7L2000.1 1170.5L2000.1 1250.7L2000.5 1110.7L2000.7 1264.7L2001.3 1270.4L2001.4 1187.3L2001.6 1202.5L2001.9 1281.6L2002.2 1146.6L2002.3 1279.9L2002.8 1285L2002.9 1194L2003 1163.1L2003.4 1315.7L2003.5 1199.8L2003.9 1272.1L2004.4 1192.8L2004.4 1311.9L2004.6 1341.1L2004.9 1199.9L2005.2 1163.8L2005.2 1309.9L2005.5 1211.4L2005.6 1324.4L2006.2 1331.7L2006.3 1207.1L2006.9 1299.7L2006.9 1216.6L2007.2 1223.9L2007.3 1312.5L2007.6 1212.9L2007.7 1297L2008.1 1315.2L2008.4 1207.3L2008.6 1316.4L2008.7 1206.3L2009.1 1353.7L2009.5 1228.7L2009.5 1336.7L2009.8 1250.2L2010.1 1316.2L2010.3 1262.6L2010.6 1240.2L2010.9 1319.2L2011.1 1317.8L2011.2 1254.7L2011.6 1311.1L2012 1240.6L2012.2 1325.3L2012.3 1157.9L2012.5 1328.8L2012.8 1245.3L2013 1259.2L2013.5 1329.5L2013.5 1252.3L2013.7 1351.7L2014.2 1287.8L2014.4 1347.6L2014.9 1275.7L2015 1336L2015.3 1249.4L2015.4 1350.5L2015.6 1268.3L2015.9 1339.1L2016.2 1278L2016.4 1367.2L2016.7 1333.5L2016.8 1295.7L2017.1 1270.5L2017.2 1345.9L2017.6 1281.6L2017.6 1347.4L2018.3 1272.2L2018.3 1324L2018.8 1290.7L2019 1359.8L2019.2 1342.1L2019.2 1284.4L2019.5 1270.2L2020 1336.3L2020.2 1291.6L2020.5 1350.3L2020.6 1364.7L2020.8 1301.6L2021.2 1366.1L2021.4 1299.3L2021.7 1373.2L2021.9 1293.7L2022.4 1371.4L2022.4 1295.2L2022.5 1304.3L2022.5 1357.6L2023.1 1297.9L2023.1 1375.6L2023.7 1299.8L2024 1394.2L2024.1 1299.1L2024.5 1358L2024.8 1311L2025 1360.6L2025.1 1299.2L2025.3 1377.2L2025.8 1299.6L2026 1348.2L2026.2 1376.3L2026.5 1302.9L2026.7 1300.2L2027 1371.2L2027.1 1305.5L2027.5 1374.2L2027.6 1368L2027.7 1306.6L2028 1386.9L2028.1 1320.9L2028.6 1309.7L2028.8 1394.9L2029.3 1395.3L2029.4 1290.2L2029.6 1310.4L2029.8 1379L2030.2 1302.5L2030.3 1369.6L2030.9 1307.9L2031 1362L2031.2 1372.1L2031.5 1318.6L2031.8 1315.6L2031.9 1409L2032.2 1301L2032.5 1392.6L2032.8 1315.1L2033 1385.3L2033.2 1382.2L2033.3 1305L2033.7 1379.9L2034 1298.4L2034.2 1375.9L2034.2 1320.2L2034.5 1378.3L2034.9 1324.6L2035.2 1318.3L2035.3 1394L2035.8 1380.5L2035.8 1304.3L2036.1 1329.3L2036.3 1387.4L2036.6 1312.9L2036.8 1391.8L2037.1 1319.8L2037.2 1387.3L2037.6 1320.9L2037.8 1378L2038.3 1320.7L2038.3 1391.5L2038.6 1401.2L2038.9 1310.1L2039.2 1382.5L2039.2 1312.3L2039.6 1319L2039.9 1371L2040.2 1403L2040.5 1328.5L2040.7 1417.9L2040.9 1316.6L2041.1 1406L2041.4 1312.6L2041.5 1318.2L2042 1433.5L2042.1 1390.4L2042.3 1317.6L2042.6 1322.5L2042.9 1408.6L2043.1 1437.8L2043.1 1322.2L2043.5 1326.2L2043.7 1383.3L2044.1 1412.7L2044.1 1319.8L2044.6 1381.5L2044.9 1332.1L2045.1 1402.4L2045.5 1323.7L2045.5 1391.4L2045.7 1319.9L2046.2 1311L2046.3 1390L2046.6 1392.8L2047 1300.8L2047 1397.1L2047.2 1324.9L2047.9 1322.3L2047.9 1421.8L2048.1 1409.9L2048.5 1315.6L2048.5 1325.5L2048.7 1382.2L2049.2 1384.7L2049.2 1322.2L2049.7 1406.4L2050 1320.8L2050.1 1391.6L2050.2 1301.8L2050.8 1317.8L2050.8 1401L2051 1372L2051.3 1333.9L2051.7 1340.4L2051.9 1434.5L2052 1407.3L2052.2 1312L2052.6 1303.7L2052.7 1422.2L2053.3 1329.3L2053.4 1411.2L2053.7 1328.7L2053.8 1420L2054 1321.5L2054.4 1396.2L2054.7 1312.6L2054.7 1392.5L2055.3 1420.4L2055.3 1321L2055.6 1425.7L2055.9 1314.2L2056.4 1395.4L2056.5 1330.4L2056.5 1300.8L2056.6 1411.8L2057.3 1331.6L2057.3 1383L2057.8 1323L2058 1401.7L2058.3 1393.3L2058.5 1311.4L2058.7 1323.8L2058.9 1418.3L2059.1 1314.2L2059.4 1380.4L2059.5 1403.2L2059.9 1303.4L2060.1 1307.1L2060.3 1407.4L2061 1395.4L2061 1322.3L2061.3 1377.9L2061.5 1311.6L2061.6 1405.9L2061.7 1325.1L2062.4 1401.2L2062.4 1303.3L2062.8 1321L2063 1396.2L2063.1 1316.3L2063.4 1398L2063.9 1316.4L2063.9 1422.7L2064.1 1319.4L2064.2 1407.1L2064.5 1410.9L2064.5 1332.7L2065.2 1313.7L2065.3 1385.9L2065.5 1303.8L2065.6 1398.4L2066 1306.6L2066.2 1415.6L2066.8 1314.6L2066.9 1405.3L2067 1427.2L2067.5 1335.6L2067.6 1415.6L2067.8 1318.1L2068.1 1315.1L2068.5 1396.1L2068.6 1322.5L2068.9 1394L2069.1 1398.9L2069.2 1320.1L2069.9 1316.1L2069.9 1404.2L2070.1 1386.6L2070.4 1319.6L2070.6 1388.4L2070.9 1326.6L2071.2 1413.8L2071.3 1330.2L2071.7 1331.4L2071.8 1393.3L2072.2 1326.2L2072.3 1398.9L2072.8 1406.4L2073 1335.6L2073.2 1314.3L2073.2 1397.6L2073.5 1401.7L2073.6 1313.6L2074.1 1330.4L2074.2 1387L2074.6 1390.2L2074.8 1321.6L2075.2 1373.5L2075.5 1305.3L2075.8 1410.5L2075.9 1330.4L2076.1 1308.8L2076.2 1395.8L2076.7 1375.1L2076.8 1321.7L2077.5 1311.6L2077.5 1410.7L2077.5 1417.9L2077.7 1312.5L2078.1 1389.5L2078.1 1320.4L2078.7 1336.2L2078.8 1447.7L2079.2 1314.1L2079.3 1388.5L2079.6 1408.1L2080 1314.8L2080.3 1396.5L2080.4 1312.2L2080.9 1418.6L2081 1320.5L2081 1424.2L2081.5 1318.3L2081.9 1318.7L2081.9 1420.6L2082.2 1430.6L2082.3 1317.8L2082.6 1325.7L2082.7 1397L2083.1 1419.4L2083.4 1323.8L2083.5 1385.6L2083.9 1314.6L2084.1 1390.6L2084.3 1338.4L2084.7 1406.9L2085 1330.4L2085 1419.1L2085.1 1314.7L2085.9 1327.4L2085.9 1398.9L2086.1 1396.7L2086.2 1329.5L2086.5 1310.6L2086.7 1429.7L2087.2 1323.2L2087.4 1428.6L2087.6 1438.8L2087.9 1318.8L2088.1 1393.2L2088.3 1319.5L2088.6 1297.9L2089 1402.8L2089.1 1400.9L2089.3 1316L2089.8 1397.9L2089.9 1311.6L2090.3 1409.9L2090.4 1334.4L2090.6 1397.2L2090.7 1299L2091.1 1310.4L2091.3 1382.2L2091.5 1407.3L2091.6 1326.1L2092.2 1316.8L2092.5 1397.6L2092.6 1309.5L2092.9 1450.1L2093.1 1328.5L2093.4 1402.6L2093.7 1407.3L2094 1319.9L2094.1 1415.1L2094.4 1312.6L2094.6 1405.9L2094.8 1331.6L2095.1 1315.9L2095.3 1418.7L2095.6 1319.2L2095.7 1415.8L2096.3 1414.1L2096.3 1292.6L2096.6 1414.6L2096.9 1331.5L2097 1308.3L2097.3 1405.1L2097.5 1318.3L2097.6 1390.6L2098.3 1313.5L2098.3 1414.9L2098.7 1316.3L2098.7 1396.9L2099.1 1319L2099.4 1403.6L2099.9 1320.3L2100 1397.5L2100.2 1403.8L2100.3 1325.3L2100.6 1394L2100.7 1328.3L2101.3 1314L2101.4 1395.9L2101.8 1395.9L2101.8 1323.4L2102 1437.1L2102.1 1314.1L2102.5 1317.1L2102.9 1412.3L2103.1 1403.4L2103.3 1316.4L2103.7 1400.7L2103.9 1317L2104.4 1389.9L2104.5 1329.8L2104.8 1325.3L2104.8 1393.1L2105.3 1398.5L2105.5 1329.1L2105.9 1388.6L2106 1308.3L2106.1 1390.1L2106.5 1322.1L2106.6 1425.7L2106.9 1308.1L2107.1 1321L2107.2 1419.9L2107.5 1413.5L2107.9 1303.5L2108.2 1404.4L2108.3 1320.8L2108.8 1405.5L2108.9 1335.5L2109.2 1392.3L2109.2 1320.9L2109.5 1309.4L2109.6 1383.2L2110.4 1391.6L2110.5 1308.5L2110.5 1314.8L2110.7 1404.1L2111 1307.6L2111.2 1425.9L2111.8 1407.7L2111.8 1330.3L2112.5 1297.6L2112.5 1423.2L2112.9 1400.6L2112.9 1318.9L2113.2 1334.4L2113.5 1411.1L2113.7 1301L2113.8 1391.7L2114.2 1410L2114.3 1315.8L2114.6 1324.1L2114.9 1409.3L2115.2 1385.9L2115.4 1329.5L2115.6 1416.4L2115.9 1324.3L2116.1 1416.1L2116.4 1329.1L2116.5 1307.4L2116.6 1388.6L2117.1 1306L2117.4 1401.2L2117.8 1308.9L2117.9 1392.4L2118.2 1398.5L2118.4 1318.4L2118.6 1317.2L2119 1403.9L2119.1 1327.1L2119.4 1400.2L2119.6 1410.9L2120 1333.7L2120.1 1319L2120.2 1384.6L2120.5 1398L2120.9 1314L2121 1302L2121.3 1392.2L2121.8 1330.8L2122 1393.8L2122.1 1385.7L2122.3 1310L2122.7 1397.2L2122.8 1306.3L2123.1 1391.3L2123.4 1308L2123.6 1433.1L2123.9 1328.4L2124.3 1392.4L2124.4 1317.3L2124.5 1397.2L2125 1305L2125.1 1393.5L2125.3 1315.7L2125.6 1331.3L2125.9 1402.7L2126.1 1409.7L2126.4 1303.4L2126.5 1407.3L2126.8 1321.3L2127.3 1318.8L2127.5 1468.1L2127.7 1408.6L2127.9 1322L2128.1 1315.3L2128.4 1415.8L2128.6 1394.2L2128.9 1312.6L2129.1 1421L2129.3 1308.6L2129.8 1396.8L2129.8 1323.2L2130.3 1402.6L2130.5 1324.6L2130.6 1304.9L2130.9 1406.7L2131.1 1312.1L2131.3 1401.5L2131.6 1394.9L2131.6 1333.8L2132.1 1404.5L2132.3 1321.8L2132.6 1383.3L2132.8 1315.7L2133.1 1324.4L2133.2 1424.2L2133.6 1381.2L2134 1311.9L2134.1 1328.9L2134.5 1385L2134.6 1322.9L2134.9 1389.3L2135.3 1395.1L2135.4 1322.9L2135.8 1406.3L2135.9 1325.4L2136 1389.5L2136.3 1310.8L2136.6 1404.9L2136.8 1311.6L2137.4 1326.2L2137.5 1392.4L2137.8 1324.1L2137.9 1399.7L2138.1 1325.2L2138.2 1401.8L2138.6 1327.8L2138.8 1419.8L2139.2 1409.5L2139.5 1320.5L2139.7 1406.4L2139.8 1327.5L2140.2 1317L2140.2 1396.9L2140.8 1321.1L2141 1398L2141.1 1325.4L2141.1 1420.3L2141.5 1301.5L2141.5 1399.9L2142.1 1413.4L2142.3 1330.6L2142.6 1421.1L2142.9 1311.5L2143.2 1320.9L2143.4 1456.2L2143.6 1406.8L2143.7 1326L2144 1398L2144.2 1318.9L2144.5 1401.4L2144.9 1335.3L2145.4 1322.4L2145.5 1397.8L2145.6 1404.2L2145.6 1334.5L2146 1403.1L2146.4 1307.7L2146.6 1393L2146.8 1324.2L2147.1 1373.8L2147.3 1322.1L2147.7 1319.3L2147.9 1401.5L2148 1308.9L2148 1426.4L2148.5 1325L2148.8 1430.8L2149 1323.4L2149.5 1383.4L2149.8 1325.7L2150 1399.1L2150.4 1401.9L2150.5 1317.3L2150.5 1423.8L2150.8 1319.2L2151.4 1403.6L2151.4 1322.8L2151.7 1325L2151.9 1390.7L2152.3 1425.6L2152.5 1314.1L2152.5 1438.1L2152.8 1322.4L2153 1324.5L2153.5 1411.1L2153.8 1319.6L2153.8 1416.7L2154.3 1419.6L2154.4 1324.9L2154.6 1302.6L2154.7 1409.1L2155.3 1325.2L2155.5 1396.4L2155.5 1312.4L2155.6 1411.2L2156 1301.9L2156.3 1435.1L2156.8 1396.3L2157 1323.3L2157.1 1408.4L2157.2 1310.8L2157.9 1418.4L2158 1308.9L2158.1 1315.7L2158.2 1431L2158.6 1316.1L2158.8 1399.4L2159 1398.1L2159.4 1324.6L2159.6 1395.8L2159.9 1326.6L2160.3 1408L2160.4 1319.5L2160.6 1406.5L2160.7 1324.1L2161.2 1401.3L2161.2 1319.9L2161.6 1401.3L2161.7 1324.6L2162.1 1316.9L2162.2 1406.9L2162.9 1389.5L2163 1299.9L2163.3 1316.9L2163.4 1409.4L2163.6 1321.2L2163.9 1422.6L2164.3 1407.9L2164.4 1317L2164.8 1421.6L2165 1315.7L2165.2 1313.4L2165.5 1420.8L2165.5 1394.9L2165.6 1322.9L2166.2 1314.5L2166.2 1418.4L2166.6 1300.9L2166.9 1414.5L2167.1 1415.3L2167.4 1308.5L2167.6 1401.3L2167.8 1328.9L2168.3 1323.1L2168.5 1397.8L2168.5 1312.3L2169 1436.6L2169.1 1410.9L2169.2 1323.7L2169.6 1319.3L2169.9 1399L2170.2 1402.3L2170.4 1313.7L2170.9 1321.6L2170.9 1405.4L2171.3 1302.4L2171.5 1418.4L2171.9 1323.4L2171.9 1390L2172 1408.3L2172.4 1307L2172.8 1396.4L2172.9 1332.6L2173.4 1318.8L2173.5 1410.3L2173.5 1316.6L2173.6 1422.9L2174.2 1308.1L2174.3 1405L2174.6 1322.5L2174.9 1435.4L2175.3 1421.5L2175.5 1325.5L2175.6 1404L2175.6 1312.8L2176.1 1405.3L2176.3 1325.7L2176.8 1320.4L2176.8 1416.1L2177.2 1304.2L2177.5 1413.2L2177.9 1316.1L2177.9 1397.8L2178.1 1389.6L2178.2 1313.5L2178.6 1418.4L2178.9 1315.9L2179.3 1324.9L2179.4 1399.6L2179.6 1404.2L2179.9 1314.6L2180.2 1333.8L2180.4 1411.2L2180.7 1323L2180.9 1421.9L2181.1 1391.9L2181.4 1298.8L2181.7 1322L2181.8 1398.1L2182.3 1399.8L2182.4 1326L2182.8 1315.8L2182.9 1399.7L2183.1 1290.8L2183.4 1399.3L2183.7 1322.9L2183.9 1432.4L2184.1 1317.6L2184.4 1402.2L2184.5 1447.5L2185 1314.3L2185.5 1413.3L2185.5 1320.7L2185.6 1322.8L2185.6 1406.5L2186.2 1403.8L2186.4 1319.6L2186.6 1309.9L2187 1409.4L2187.2 1322.3L2187.4 1375.3L2187.6 1312.1L2187.6 1417.1L2188.4 1421.8L2188.5 1317.2L2188.7 1317.4L2188.9 1413.5L2189.2 1324.8L2189.3 1450L2189.5 1395.3L2189.8 1326.8L2190.2 1417.2L2190.4 1316.3L2190.7 1396.3L2190.8 1318.1L2191.3 1293.6L2191.4 1400.2L2191.6 1310.9L2191.7 1406.5L2192.4 1307L2192.5 1398.1L2192.5 1302.7L2192.7 1408.8L2193 1336.4L2193.1 1392.8"/>
<path stroke="#b35014" d="M282.1 317.1L421.6 274.1L503.2 313.7L561 349.6L605.9 358.3L642.6 302.4L673.6 254.2L700.5 251.4L724.2 230.6L745.4 237.7L764.6 234.2L782.1 254.2L798.2 285.5L813.1 310.3L827 359.9L840 436.9L852.1 421.8L863.6 402.4L874.5 413.9L884.8 404.1L894.7 439.5L904 441.3L913 452.8L921.5 436.9L929.7 442.2L937.6 471.4L945.2 490L952.5 453.7L959.6 429.8L966.4 436L973 434.2L979.4 406.8L985.6 426.3L991.6 424.5L997.4 395.6L1003.1 398.8L1008.6 430.7L1014 433.3L1019.2 400.6L1024.3 386.4L1029.3 399.7L1034.1 390.9L1039.3 360.5L1044.7 314.3L1053.6 341.6L1058.3 370L1062.1 419.1L1066.8 373.7L1070.6 383.2L1074.4 367.1L1081.9 408.7L1090.1 379.4L1094.2 389.8L1100.3 378.5L1103.7 405.9L1107.4 462.5L1111.2 462.5L1119.7 398.3L1123.5 413.4L1128.2 424.7L1134.8 400.2L1139.5 417.2L1143.3 405.9L1149 479.5L1154.6 415.3L1159.4 447.4L1163.1 415.3L1166 428.5L1169.8 413.4L1175 466.3L1177.3 419.1L1180.1 441.7L1185.8 436.1L1190.9 402.1L1195.8 445.5L1199.6 393.6L1201.9 445.5L1206.6 404L1212.2 434.2L1216 415.3L1219.8 504.1L1222.6 447.4L1226.4 507.8L1230 441.7L1231.4 462L1233.2 476L1235 468.4L1236.8 461.8L1238.5 465L1240.2 475.5L1241.9 487L1243.6 492.6L1245.3 495.5L1247 488.3L1248.7 487.6L1250.3 492.5L1251.9 505.3L1253.5 462.2L1255.1 481.7L1256.7 497.7L1258.3 488.6L1259.9 449.4L1261.4 472L1263 494.9L1264.5 465L1266 480.9L1267.5 456L1269 516.1L1270.5 474.9L1272 504.1L1273.4 533.6L1274.9 538.4L1276.3 515.8L1277.8 505.2L1279.2 512.3L1280.6 515.8L1282 493.2L1283.4 476.5L1284.8 536L1286.2 515.1L1287.5 542.6L1288.9 541.4L1290.2 522.4L1291.6 541.6L1292.9 511.7L1294.2 502.6L1295.5 504.5L1296.8 525.2L1298.1 593.7L1299.4 563.6L1300.7 575.9L1301.9 568.2L1303.2 578.8L1304.5 529.3L1305.7 557.1L1306.9 574.4L1308.2 575L1309.4 604.4L1310.6 572.9L1311.8 558.7L1313 555.3L1314.2 584.2L1315.4 535L1316.6 589.8L1317.8 552.4L1318.9 563.9L1320.1 572.8L1321.2 572.9L1322.4 587.4L1323.5 590.7L1324.7 572.3L1325.8 615.1L1326.9 586.7L1328 618.5L1329.1 552.9L1330.2 592.1L1331.3 601.6L1332.4 591.2L1333.5 602.6L1334.6 636L1335.6 589L1336.7 589.1L1337.8 573.2L1338.8 598L1339.9 621.2L1340.9 632.1L1342 627.3L1343 596.7L1344 644.2L1345.1 583.8L1346.1 574.9L1347.1 612.2L1348.1 584.3L1349.1 597.5L1350.1 619.9L1351.1 588.3L1352.1 611.5L1353.1 589L1354 614.1L1355 609L1356 628.3L1357 670.4L1357.9 671.2L1358.9 637.2L1359.8 652.4L1360.8 616.1L1361.7 665.4L1362.6 636.1L1363.6 646.4L1364.5 644.6L1365.4 670.3L1366.4 647L1367.3 617.1L1368.2 642.7L1369.1 624.5L1370 641.8L1370.9 622.8L1371.8 633.2L1372.7 630.2L1373.6 661.7L1374.5 660.6L1375.3 680L1376.2 666.8L1377.1 642.7L1378 645.7L1378.8 615.8L1379.7 629.6L1380.5 603.8L1381.4 628.5L1382.2 658.8L1383.1 654L1383.9 638.4L1384.8 706.4L1385.6 682.5L1386.4 675.3L1387.3 707.2L1388.1 646.6L1388.9 648.6L1389.7 638.2L1390.6 643.1L1391.4 684.9L1392.2 670.8L1393 628L1393.8 628.1L1394.6 661.5L1395.4 676.2L1396.2 631.7L1397 696.1L1397.8 645.1L1398.5 688.5L1399.3 634.7L1400.1 663.4L1400.9 676.6L1401.7 692.1L1402.4 622.2L1403.2 656.3L1404 650.2L1404.7 657.5L1405.5 688.3L1406.2 754.9L1407 699.8L1407.7 682.4L1408.5 693.9L1409.2 678.9L1410 703.5L1410.7 680.1L1411.4 690.6L1412.2 685.6L1412.9 699.9L1413.6 656.3L1414.3 709.1L1415.1 752L1415.8 692.6L1416.5 712L1417.2 688.7L1417.9 688.9L1418.6 699.1L1419.4 721.1L1420.1 694.5L1420.8 711.4L1421.5 712.2L1422.2 682.3L1422.8 686.5L1423.5 694L1424.2 745.3L1424.9 698L1425.6 683.6L1426.3 722.3L1427 700.3L1427.6 734.7L1428.3 689.4L1429 735.4L1429.7 711.5L1430.3 676.7L1431 736.2L1431.7 683.6L1432.3 726L1433 705.7L1433.7 749L1434.3 694.8L1435 700.3L1435.6 699.4L1436.3 694.6L1436.9 740.6L1437.6 712.2L1438.2 774.8L1438.8 692.3L1439.5 728.7L1440.1 766.2L1440.8 716.8L1441.4 693.5L1442 646.2L1442.7 755.8L1443.3 712.7L1443.9 749.9L1444.5 717.4L1445.2 704.2L1445.8 696.3L1446.4 710.4L1447 710.9L1447.6 674.4L1448.2 695.4L1448.8 695.7L1449.5 721L1450.1 767.9L1450.7 724.2L1451.3 741.3L1451.9 744.3L1452.5 710.3L1453.1 724.8L1453.7 748.1L1454.3 733.6L1454.9 740.9L1455.4 726.6L1456 761.4L1456.6 702.4L1457.2 731L1457.8 723L1458.4 736L1459 779.7L1459.5 704.5L1460.1 753.8L1460.7 733.2L1461.3 726.5L1461.8 737L1462.4 746.8L1463 725.4L1463.5 771.3L1464.1 728.2L1464.7 725.6L1465.2 750.8L1465.8 734.4L1466.4 719L1466.9 736.1L1467.5 759.9L1468 724.1L1468.6 817.7L1469.1 747.6L1469.7 757.6L1470.2 753.7L1470.8 770.7L1471.3 760L1471.9 756L1472.4 730.8L1472.9 733.7L1473.5 781.8L1474 757.5L1474.6 735L1475.1 765.5L1475.6 735.5L1476.2 709.9L1476.7 788.8L1477.2 778.4L1477.8 767.8L1478.3 757.3L1478.8 797.7L1479.3 747L1479.9 744.2L1480.4 745.9L1480.9 774.9L1481.4 735.6L1481.9 745.8L1482.5 751.6L1483 741.5L1483.5 775.1L1484 760L1484.5 753.6L1485 743.7L1485.5 759.2L1486 759.3L1486.5 750.7L1487 742.2L1487.5 793.5L1488.1 753.3L1488.6 791L1489.1 745.5L1489.6 762.8L1490 736.2L1490.5 783.6L1491 753.4L1491.5 777.8L1492 747.6L1492.5 750L1493 786.9L1493.5 766.8L1494 804.3L1494.5 777.6L1495 740.7L1495.4 757.2L1495.9 793.6L1496.4 775.3L1496.9 788L1497.4 768L1497.8 746.9L1498.3 771.4L1498.8 754.9L1499.3 790.7L1499.7 774.3L1500.2 787.5L1500.7 788.6L1501.2 804.2L1501.6 787.8L1502.1 760.8L1502.6 823.1L1503 753.1L1503.5 749.3L1504 755L1504.4 749.2L1504.9 793.2L1505.3 720.5L1505.8 794L1506.3 778.5L1506.7 773.7L1507.2 807.4L1507.6 762.1L1508.1 757.6L1508.5 747L1509 814.5L1509.4 799.9L1509.9 793L1510.3 733.2L1510.8 754.6L1511.2 744.4L1511.7 755.5L1512.1 760.7L1512.6 779.9L1513 812.9L1513.5 790.8L1513.9 758.9L1514.4 781.7L1514.8 754L1515.2 742.6L1515.7 749L1516.1 767.5L1516.5 785.2L1517 754.7L1517.4 813.2L1517.8 782.5L1518.3 801.8L1518.7 771.2L1519.1 805.2L1519.6 765.3L1520 779L1520.4 779.9L1520.8 792.8L1521.3 777.8L1521.7 822.5L1522.1 827.9L1522.5 788.1L1523 814L1523.4 797.8L1523.8 822.3L1524.2 805.5L1524.6 790.5L1525.1 778.5L1525.5 814.2L1525.9 793.9L1526.3 771.3L1526.7 783.1L1527.1 809L1527.6 788.2L1528 811.1L1528.4 791.6L1528.8 800.2L1529.2 812.9L1529.6 788.3L1530 797.9L1530.4 810.7L1530.8 823.1L1531.2 802.7L1531.6 771.2L1532 782.9L1532.4 788.4L1532.8 820.9L1533.2 818.3L1533.6 780.1L1534 821L1534.4 821.2L1534.8 795.2L1535.2 785.8L1535.6 806.6L1536 778.6L1536.4 807.9L1536.8 823.6L1537.2 821.7L1537.6 804.8L1538 788.3L1538.4 816.5L1538.8 803L1539.2 792.9L1539.6 790.2L1539.9 831.7L1540.3 792.9L1540.7 802.1L1541.1 816.8L1541.5 789.6L1541.9 832.4L1542.3 796.7L1542.6 813.2L1543 812.4L1543.4 821.6L1543.8 813.6L1544.2 812L1544.5 799.1L1544.9 822L1545.3 830.8L1545.7 797.8L1546.1 803.6L1546.4 815.5L1546.8 822.2L1547.2 762.2L1547.6 810.7L1547.9 827.1L1548.3 804.6L1548.7 807.8L1549 790.5L1549.4 789.9L1549.8 814.3L1550.1 794.2L1550.5 789.3L1550.9 804.6L1551.3 786.4L1551.6 870.6L1552 819.1L1552.3 803.1L1552.7 784.4L1553.1 825.9L1553.4 836.1L1553.8 814.4L1554.2 772.7L1554.5 808.8L1554.9 857.2L1555.2 821.2L1555.6 838.3L1556 810.6L1556.3 819.7L1556.7 778.1L1557 819.2L1557.4 829.2L1557.7 795.8L1558.1 782.6L1558.4 778.3L1558.8 822.9L1559.2 799.4L1559.5 772L1559.9 800.6L1560.2 821.7L1560.6 780.4L1560.9 830.3L1561.3 795.4L1561.6 793.9L1562 783.9L1562.3 785.4L1562.6 845.2L1563 815.2L1563.3 829.8L1563.7 796.9L1564 831.2L1564.4 790.6L1564.7 775.8L1565.1 791L1565.4 803.4L1565.7 809.7L1566.1 821.8L1566.4 814.3L1566.8 803.8L1567.1 793.7L1567.4 839.5L1567.8 798.4L1568.1 796.5L1568.5 776.9L1568.8 811.9L1569.1 807.9L1569.5 797.1L1569.8 803.2L1570.1 794.1L1570.5 783.5L1570.8 769.3L1571.1 797.4L1571.5 779.1L1571.8 803.7L1572.1 800.6L1572.4 850L1572.8 813.8L1573.1 796.2L1573.4 793.9L1573.8 774.6L1574.1 788.7L1574.4 790.7L1574.7 813.3L1575.1 774.6L1575.4 791.3L1575.7 831.8L1576 766.4L1576.4 772.3L1576.7 837.7L1577 785.3L1577.3 793.7L1577.7 772.2L1578 793.3L1578.3 769.5L1578.6 805.1L1578.9 834.9L1579.3 772.7L1579.6 775.3L1579.9 761.4L1580.2 790.6L1580.5 764.5L1580.8 780.9L1581.2 761.8L1581.5 773.5L1581.8 756.4L1582.1 737.4L1582.4 753.7L1582.7 756.6L1583 789.1L1583.4 748.8L1583.7 739.6L1584 742.9L1584.3 751.3L1584.6 770.4L1584.9 764.7L1585.2 749.4L1585.5 718.9L1585.8 744.2L1586.2 735.7L1586.5 719.8L1586.8 734.2L1587.1 720L1587.4 732.9L1587.7 725.7L1588 748.2L1588.3 756.1L1588.6 703.9L1588.9 724.7L1589.2 717.6L1589.5 751.1L1589.8 723.5L1590.1 720.5L1590.4 719.1L1590.7 740.1L1591 751.1L1591.3 705.3L1591.6 758.8L1591.9 735.7L1592.2 725.9L1592.5 741.1L1592.8 732.7L1593.1 732.9L1593.4 724L1593.7 727.1L1594 712.3L1594.3 706.4L1594.6 717.7L1594.9 748.6L1595.2 722.6L1595.5 722.3L1595.8 734.5L1596.1 737.4L1596.4 764.4L1596.7 713L1596.9 723.4L1597.2 729.2L1597.5 731.1L1597.8 722.1L1598.1 713.4L1598.4 737.2L1598.7 759L1599 753L1599.3 712.2L1599.6 683.4L1599.8 731L1600.1 732.4L1600.4 724.8L1600.7 742.8L1601 720.7L1601.3 763.3L1601.6 769.2L1601.9 771L1602.1 763.3L1602.4 716.4L1602.7 727.8L1603 720.4L1603.3 752.2L1603.6 761.3L1603.8 728.2L1604.1 728.1L1604.4 703.3L1604.7 728L1605 733.5L1605.2 739.9L1605.5 733.5L1605.8 719.1L1606.1 717.7L1606.4 751L1606.6 747.6L1606.9 738.3L1607.2 723.9L1607.5 749.9L1607.7 745.8L1608 726.4L1608.3 735.1L1608.6 743.2L1608.9 753.9L1609.1 735.2L1609.4 749L1609.7 742.3L1610 803.1L1610.2 776.8L1610.5 793.3L1610.8 737.8L1611 804.9L1611.3 774.1L1611.6 771.5L1611.9 810.3L1612.1 842.9L1612.4 755.6L1612.7 774.9L1612.9 813.4L1613.2 763.8L1613.5 804.4L1613.7 754.4L1614 742.4L1614.3 825.5L1614.6 775.6L1614.8 768.2L1615.1 766.8L1615.4 796L1615.6 753L1615.9 775.5L1616.2 790.1L1616.4 784.6L1616.7 765.8L1616.9 784.3L1617.2 773.3L1617.5 815L1617.7 818.1L1618 811.7L1618.3 855.4L1618.5 765.8L1618.8 831.9L1619 750.2L1619.3 776.5L1619.6 812.4L1619.8 794.2L1620.1 814.2L1620.4 820.5L1620.6 815.7L1620.9 840.1L1621.1 765.5L1621.4 815.9L1621.6 818.1L1621.9 800.4L1622.2 789.9L1622.4 789.9L1622.7 787.1L1622.9 784.1L1623.2 796L1623.4 807.8L1623.7 798.2L1624 814.7L1624.2 823.2L1624.5 889.3L1624.7 828.2L1625 791.4L1625.2 848.5L1625.5 858.3L1625.7 822.3L1626 799.5L1626.2 813.2L1626.5 815L1626.7 779.7L1627 828.6L1627.3 814.9L1627.5 816.3L1627.8 832.6L1628 789.9L1628.3 839L1628.5 833.7L1628.8 813.8L1629.3 837.2L1629.5 855L1629.7 814L1630 805.9L1630.2 844.3L1630.5 854.3L1630.7 815.1L1631 838.6L1631.2 806.9L1631.5 839.1L1631.7 872.7L1632 863.7L1632.2 848.2L1632.5 842.1L1632.7 835.2L1632.9 832L1633.2 841.3L1633.4 819.7L1633.7 877.5L1633.9 852.1L1634.2 859.5L1634.4 836.3L1634.6 870L1634.9 833.6L1635.1 822.1L1635.4 820L1635.6 829.5L1635.9 839L1636.1 849.2L1636.3 861.9L1636.6 868.5L1636.8 860.9L1637.1 842.8L1637.3 869.3L1637.5 854.3L1637.8 845.8L1638 851.1L1638.5 860.4L1638.7 862.5L1639 850.8L1639.2 835.9L1639.4 849L1639.7 848L1639.9 857.2L1640.1 866.5L1640.4 876L1640.6 845.7L1640.8 849.9L1641.1 859L1641.3 846.1L1641.6 839.7L1641.8 856.5L1642 829.8L1642.5 852.1L1642.7 843.9L1642.9 852L1643.2 841.9L1643.4 836.1L1643.6 837.4L1643.9 873.9L1644.1 875.8L1644.3 917.8L1644.6 879.7L1644.8 850.1L1645.3 866.6L1645.5 842.7L1645.7 871.5L1645.9 875.1L1646.2 872.6L1646.4 842.2L1646.6 879.3L1646.9 905.6L1647.1 894L1647.3 897.6L1647.5 881L1647.8 864.2L1648.2 887.5L1648.4 879.2L1648.7 867.7L1648.9 877.6L1649.1 865.5L1649.4 871.2L1649.6 866.4L1649.8 891.4L1650 880.9L1650.2 887.7L1650.7 900.6L1650.9 861.3L1651.1 869.6L1651.4 864.8L1651.6 867.2L1651.8 908.2L1652 868.7L1652.5 932.8L1652.7 888.3L1652.9 879L1653.1 874.3L1653.4 884.5L1653.6 867.4L1653.8 870.3L1654.2 903.4L1654.5 890L1654.7 890L1654.9 900.4L1655.1 898.1L1655.3 913.3L1655.6 929.4L1656 891.4L1656.2 900.1L1656.4 909.8L1656.6 905.6L1656.9 875.1L1657.1 896.8L1657.3 878.9L1657.5 881.4L1657.7 906.6L1658.2 904.9L1658.4 919.1L1658.6 914.6L1658.8 910.9L1659 903.1L1659.4 918.8L1659.7 944.6L1659.9 925.6L1660.1 913.4L1660.3 901.1L1660.7 941.1L1660.9 903.3L1661.2 897.4L1661.4 924.9L1661.6 932.8L1662 891.5L1662.2 913.9L1662.4 900.8L1662.6 925L1662.8 934.7L1663.1 901.2L1663.5 932.3L1663.7 903.1L1663.9 904.3L1664.1 937.7L1664.3 919.1L1664.7 921.9L1664.9 972L1665.1 923.2L1665.4 952.6L1665.6 925.2L1665.8 979.5L1666.2 908L1666.4 927L1666.6 959.3L1666.8 894.2L1667 904L1667.4 920.5L1667.6 907.5L1667.8 915.1L1668.2 923.5L1668.4 951.9L1668.6 903.7L1668.9 946.1L1669.1 937.1L1669.3 907.9L1669.7 945.2L1669.9 890.2L1670.3 963.1L1670.5 923.2L1670.7 935.8L1670.9 894.5L1671.1 967.4L1671.3 905.3L1671.7 934.2L1671.9 971.5L1672.1 919.3L1672.5 933.5L1672.7 967.3L1672.9 964.5L1673.1 887.5L1673.5 925L1673.7 945L1673.9 942.8L1674.1 919.2L1674.3 953.7L1674.7 940.5L1674.9 942.6L1675.1 893.7L1675.3 933L1675.7 896.1L1675.9 940.4L1676.3 945.3L1676.5 937.5L1676.7 987.7L1676.9 915.2L1677.1 916.3L1677.4 934L1677.6 904.9L1677.8 987.4L1678 917.5L1678.4 929.6L1678.6 900.1L1678.8 970.1L1679 943.1L1679.4 891.2L1679.8 892.8L1680 987.6L1680.2 959.8L1680.4 972.7L1680.6 972.5L1680.7 892.8L1681.1 956.7L1681.3 935L1681.5 971L1681.7 937L1682.3 915.7L1682.5 975L1682.7 958.6L1682.9 972.1L1683 1002.2L1683.4 949.3L1683.6 956.4L1684 960.9L1684.2 982.5L1684.4 941.4L1684.6 954.6L1684.9 982.1L1685.1 1001.8L1685.3 986.8L1685.7 985.9L1685.9 963.5L1686.1 978.3L1686.3 964.1L1686.6 926.6L1686.8 957.3L1687 960.2L1687.2 985.7L1687.6 927.3L1687.7 988.2L1688.1 937L1688.3 967.8L1688.7 979.1L1688.9 998.6L1689.2 984.5L1689.4 943.2L1689.8 995.2L1690 1020.9L1690.2 955L1690.3 972.3L1690.5 982.4L1690.9 997.7L1691.1 994.9L1691.4 958.7L1691.6 958.5L1691.8 991.2L1692.2 974.3L1692.3 963.6L1692.5 952.6L1692.7 950.1L1693.1 980.9L1693.4 954L1693.8 944.5L1694 975.3L1694.2 976.8L1694.3 933.2L1694.5 976.4L1694.7 1044.1L1695.1 942.7L1695.4 1037.1L1695.6 969.3L1695.9 986.8L1696.3 1040.6L1696.5 966.7L1696.7 961.9L1696.8 997L1697 968.9L1697.4 1040.5L1697.5 940.5L1697.9 995.5L1698.3 940.1L1698.4 1025.3L1698.6 974.3L1698.8 1002L1699.3 913.6L1699.5 989.1L1699.7 941.4L1699.8 971.8L1700 936.1L1700.2 995.1L1700.5 979.9L1700.7 972.8L1701.1 1005.5L1701.4 983.9L1701.8 1011.7L1701.9 951.2L1702.1 951.9L1702.3 984.7L1702.6 959.4L1702.8 988.6L1703.1 972.5L1703.5 1005L1703.7 1012.9L1704 964.6L1704.2 1024.2L1704.3 994.7L1704.7 1024.4L1704.9 981.1L1705 1013L1705.4 983.7L1705.5 993.2L1705.7 998.9L1706 998.5L1706.2 1055.8L1706.7 1033.1L1706.9 1006.7L1707.1 975.8L1707.4 1019.8L1707.6 997.2L1707.9 1014.8L1708.1 991.7L1708.4 1045.9L1708.6 1036.4L1708.7 1011.3L1709.1 1045.8L1709.2 998.5L1709.6 1018.6L1709.7 1034L1710.1 990.4L1710.4 998.4L1710.6 991.3L1710.7 1006.1L1711.1 1011.5L1711.2 1018.9L1711.7 1026.9L1711.9 1013.6L1712.1 1030.5L1712.4 1016L1712.6 1065.7L1712.9 1020.9L1713.1 992.2L1713.4 1022L1713.5 1027.7L1713.7 983.4L1714 1025.1L1714.2 986.1L1714.5 983.3L1714.7 1026.8L1715.3 1031.2L1715.5 1004.7L1715.7 1012.5L1715.8 1027.4L1716.1 994L1716.5 1052.3L1716.6 989.3L1716.9 1032L1717.1 1006.1L1717.4 1038.6L1717.6 1046.3L1717.8 1015.8L1718.1 1020.6L1718.2 1034.6L1718.7 1047.1L1718.9 1030.7L1719 1039.7L1719.2 1034.6L1719.7 1004.1L1719.8 1067.9L1720.1 1025L1720.5 1066.5L1720.6 1021L1720.8 1100.8L1721.1 1044.4L1721.2 1013.2L1721.6 1078L1721.7 1008.9L1722 1031.3L1722.3 1056.2L1722.7 1012.3L1723 1059.3L1723.1 1006.6L1723.3 1044.4L1723.7 1053.2L1723.9 1042.3L1724.2 1106.2L1724.4 1031.4L1724.7 1031.6L1725 1058.9L1725.3 1016.5L1725.5 1027.3L1725.6 1018.6L1725.8 1103.5L1726.1 1064.8L1726.2 1032.7L1726.7 1031.3L1727 1073.5L1727.1 1042.1L1727.3 1027.8L1727.6 1051.5L1727.9 1024L1728.1 1036.4L1728.2 1010.6L1728.5 1030.6L1729 1042.8L1729.1 1044.2L1729.4 1075.1L1729.6 1079.3L1729.9 1038.8L1730.2 1058.5L1730.3 1015.7L1730.6 1032.2L1730.8 1008.8L1731.2 1057.7L1731.4 1085.7L1731.5 1023.9L1732 1045.4L1732.1 1039.1L1732.4 1025.8L1732.6 1026.6L1732.9 1112L1733.2 1015.2L1733.5 1072.5L1733.8 1037.4L1733.9 1052.8L1734.2 1026.8L1734.5 1013.9L1734.6 1066.6L1734.8 1012.6L1735.1 1022.5L1735.4 1000.1L1735.5 1069.3L1735.8 1014.3L1736.1 1025.3L1736.3 1076.7L1736.5 1067.7L1736.8 1000.1L1737.1 1010.6L1737.4 1100.7L1737.6 1058.6L1737.7 1004.2L1738 1089.8L1738.4 1007.9L1738.7 1053.3L1738.9 1032.5L1739 1038.8L1739.3 1060.6L1739.6 1036.4L1739.9 1084.5L1740 1024.1L1740.3 1071.6L1740.7 1021.4L1740.9 1061.6L1741.2 1036.5L1741.3 1019.9L1741.6 1004.8L1741.9 1138.4L1742.2 1066.1L1742.3 1044L1742.6 1027.5L1742.7 1020.5L1743.3 1069.2L1743.4 1032L1743.7 1058.1L1743.9 1052.1L1744.1 1077.9L1744.3 1029.3L1744.6 1124.6L1745 1015.3L1745.1 1042L1745.4 1066.2L1745.5 1041L1746 1071.7L1746.1 1018.7L1746.4 1053.6L1746.5 1044.1L1746.9 1064L1747.3 1052.3L1747.5 1109.2L1747.6 1034.8L1747.9 1044L1748.2 1069.7L1748.4 1018.3L1748.6 1033.4L1748.7 1071.3L1749.1 1052.1L1749.3 1071.7L1749.5 1030.2L1750 1076.7L1750.1 1030.9L1750.2 1072.8L1750.6 1032.9L1750.8 1069.1L1751 1047L1751.2 1067.5L1751.6 1047.4L1751.7 1062.1L1752.3 1021.8L1752.4 1037L1752.7 1063.5L1752.8 1046.5L1753.1 1039.3L1753.5 1050.4L1753.6 1057.2L1753.9 1027.7L1754.1 1008L1754.4 1093.5L1754.8 1054.1L1754.9 1022.5L1755.2 1025.6L1755.3 1079.3L1755.6 1047L1755.7 1078.5L1756.3 1073.5L1756.4 1029.4L1756.5 1099.6L1756.7 1040.7L1757.1 1078.4L1757.5 1024.2L1757.8 1072.5L1758 1024.2L1758.2 1036.6L1758.4 1064.5L1758.6 1087L1758.9 1018.6L1759 1027.7L1759.2 1070.1L1759.7 996.2L1759.9 1078L1760.1 1041L1760.5 1030.8L1760.6 1017.8L1761 1077.4L1761.1 1014.1L1761.4 1040.8L1761.7 1041L1761.9 1060.9L1762.1 1019.1L1762.4 1081.9L1762.5 1010.1L1762.9 1036.3L1763.2 1014.2L1763.3 1033.1L1763.7 1049.5L1763.9 1013.7L1764 1011.1L1764.2 1080.8L1764.7 1020.5L1764.8 1050.5L1765.2 1065.4L1765.4 1003.8L1765.6 1012.5L1765.7 1067.3L1766.1 1026.1L1766.2 1043.7L1766.6 1035.2L1766.7 995.3L1767.3 1045.4L1767.5 995.8L1767.6 1014.9L1767.7 1046.2L1768.1 1060.5L1768.5 1012L1768.6 995.7L1768.7 1033.5L1769.1 1047.3L1769.4 999.8L1769.6 1025.9L1769.9 1055.9L1770.1 1020L1770.2 1027.4L1770.7 1009L1770.9 1051.5L1771.1 1057.6L1771.2 999.3L1771.5 1021.4L1771.9 1009.7L1772.3 1014.7L1772.4 1010.3L1772.6 1048.2L1772.9 1005L1773 996.3L1773.1 1014L1773.9 991.5L1774 1038.6L1774.2 1038.4L1774.3 1008.5L1774.7 1038.2L1774.9 1003.4L1775.1 1036.5L1775.2 1010.9L1775.5 1003L1775.9 1019.4L1776 1001L1776.3 1044.2L1776.6 989.1L1776.9 1021.3L1777.2 997.4L1777.5 1017L1777.6 1012.4L1777.9 997.8L1778.2 1018.8L1778.4 1002.1L1778.5 1035.7L1778.8 1006.3L1779 1011.9L1779.2 1050.2L1779.6 1008.7L1779.7 976.9L1780.2 994.6L1780.3 1050.4L1780.7 1057.5L1780.8 982.4L1781.2 1014.6L1781.4 982.3L1781.6 1034.4L1781.9 985.4L1782.1 1056.1L1782.3 971L1782.6 1010.4L1783 966.9L1783.1 1024.1L1783.3 974.9L1783.7 1012.3L1783.9 959.3L1784.1 967.6L1784.4 1011.8L1784.7 965.5L1784.9 1003.8L1785.1 1047.4L1785.2 965L1785.7 987.2L1786 1001.3L1786.3 958.4L1786.4 1007.4L1786.5 960.6L1786.7 1021.5L1787.2 1028L1787.3 957.2L1787.6 1023.4L1787.8 956.2L1788.2 967.6L1788.4 1033.1L1788.6 1003L1788.9 960.7L1789.1 987.9L1789.4 951.2L1789.8 1006L1789.9 929.1L1790 1012.5L1790.3 941.5L1790.6 939L1790.7 1021L1791 969L1791.2 1017.8L1791.8 965L1791.9 975.3L1792.2 977.9L1792.5 947.9L1792.8 981.8L1792.9 937.1L1793 938.2L1793.5 994.1L1793.7 994.2L1793.8 939.5L1794.1 973.6L1794.2 921L1794.8 925.3L1794.9 1050.4L1795.1 930.6L1795.4 975.4L1795.8 979.2L1796 934.4L1796.1 961.4L1796.2 1000.3L1796.5 1022.1L1797 953.8L1797.1 967.4L1797.3 945.7L1797.6 961.4L1797.9 1023.9L1798 995.3L1798.5 946.5L1798.8 951.7L1798.9 995.9L1799.1 935.6L1799.2 988.3L1799.5 982L1800 947.7L1800.3 1013.9L1800.4 948.3L1800.6 965.8L1800.7 1023.9L1801.1 999.1L1801.4 952.3L1801.6 944.8L1801.9 984.6L1802.2 959.3L1802.4 980.1L1802.5 1002.8L1802.6 957.2L1803.2 1035.2L1803.3 968.2L1803.6 1007.6L1804 944.1L1804.1 1003.2L1804.4 940.8L1804.7 1006.1L1804.9 965.7L1805.2 974.7L1805.4 995.6L1805.5 988.1L1805.8 971.8L1806 970.5L1806.5 1038.5L1806.7 1034.7L1806.8 981L1807.3 973.3L1807.5 1008L1807.6 1012.2L1807.9 981L1808.2 955.7L1808.3 999L1808.5 1034.5L1808.8 974.7L1809.1 1022.7L1809.4 988.9L1809.6 1020.7L1809.8 967.6L1810.1 1040.2L1810.4 993.9L1810.6 961.7L1810.8 1016.2L1811.3 972L1811.4 1044.4L1811.7 980.1L1811.8 1032.4L1812.1 1031.6L1812.2 991.3L1812.8 990.6L1812.9 1036.1L1813.2 1020.7L1813.3 962.1L1813.5 1016.9L1813.7 996.1L1814.2 996.5L1814.3 1026.9L1814.5 1030.3L1814.8 966L1815.2 982L1815.4 1041.5L1815.6 1011L1815.7 1042.3L1816.1 983.3L1816.3 1028.6L1816.5 1045.2L1816.9 1003.5L1817.2 1063.6L1817.5 996.2L1817.9 1025.3L1818 1059.4L1818.1 1031L1818.3 1012.5L1818.6 1055.3L1818.8 1015.6L1819 1044.4L1819.4 997.4L1819.5 995.3L1819.7 1019.3L1820 1008.3L1820.3 1061.1L1820.7 1074.3L1820.9 998.3L1821.4 1022.4L1821.4 1059.7L1821.5 1010.1L1821.9 1058.3L1822.2 1011L1822.5 1083.2L1822.6 1070.6L1822.7 1025.4L1823.3 1017.2L1823.4 1083.6L1823.7 1050L1823.9 998.3L1824 1015.3L1824.1 1051L1824.8 1014.8L1825 1099.4L1825.1 1023L1825.4 1075.4L1825.5 1018.9L1825.9 1059L1826.3 1012L1826.4 1069.5L1826.6 1008.9L1826.7 1028.2L1827.1 1018L1827.3 1108L1827.6 1027.4L1827.8 1056.4L1828 1098.3L1828.5 1020.6L1828.7 1035.3L1828.9 1092.6L1829.1 1075.5L1829.4 1032.9L1829.8 1032.8L1830 1078.6L1830.1 1019.9L1830.2 1073.2L1830.5 1031.5L1830.9 1080.6L1831.1 1043L1831.4 1067.4L1831.6 1036.2L1831.9 1062.8L1832.2 1026L1832.3 1050L1832.8 1013L1832.9 1065.9L1833.2 1070.7L1833.4 1025.9L1833.6 1017.3L1833.8 1098.4L1834.2 1045.5L1834.3 1066.9L1834.8 1042L1835 1076.1L1835.2 1098.3L1835.4 1021L1835.7 1063.7L1835.9 1037.5L1836.4 1098.9L1836.5 1042.2L1836.8 1046.6L1836.9 1087.1L1837.1 1023L1837.4 1067.6L1837.7 1075.3L1838 1023.1L1838.2 1107.3L1838.4 1052.1L1838.6 1034.5L1838.9 1065.9L1839.2 1038.5L1839.5 1072.9L1839.8 1044.2L1839.9 1103.6L1840.3 1080.7L1840.4 1050.6L1840.7 1050.8L1840.8 1088.6L1841 1077.2L1841.1 1049.4L1841.6 1061.5L1841.9 1127.2L1842.2 1043.2L1842.4 1122.6L1842.8 1044.3L1842.9 1114L1843.2 1036.6L1843.4 1107.6L1843.6 1070.1L1843.9 1076.4L1844.1 1039.1L1844.5 1098L1844.6 1046L1845 1110.7L1845.2 1074.1L1845.5 1111.6L1845.8 1066.8L1845.9 1112.3L1846.2 1064.5L1846.4 1117.6L1846.6 1112L1846.7 1049.9L1847 1124.3L1847.1 1050.3L1847.6 1122.8L1847.7 1074.7L1848.3 1118.8L1848.4 1069.5L1848.8 1082.7L1848.9 1120.2L1849.2 1080.8L1849.4 1114.4L1849.6 1093.2L1849.8 1127.1L1850.2 1185.2L1850.3 1065.8L1850.5 1102.8L1850.9 1149.6L1851 1121L1851.4 1091.4L1851.6 1080L1851.8 1129.9L1852.3 1173.7L1852.3 1088.1L1852.8 1107.3L1852.9 1093.6L1853.2 1138L1853.3 1085.5L1853.6 1100L1853.8 1121.2L1854.1 1135.1L1854.1 1097.9L1854.5 1092L1854.9 1151.5L1855.2 1082.8L1855.4 1143.9L1855.7 1138.9L1855.8 1085.9L1856.1 1097.4L1856.3 1137.2L1856.6 1166.7L1857 1108.5L1857.1 1116.7L1857.4 1086.3L1857.8 1169L1857.9 1105.8L1858 1105.1L1858.4 1144.5L1858.6 1127.8L1858.8 1084.2L1859.1 1147.6L1859.2 1108.2L1859.5 1113.5L1859.6 1164.7L1860.2 1136.1L1860.5 1102L1860.5 1098.3L1860.6 1152.4L1861.2 1153.3L1861.3 1091.2L1861.8 1138.2L1861.9 1087.4L1862.3 1145.7L1862.3 1096.9L1862.7 1095.2L1863 1136L1863 1158.9L1863.2 1121.7L1863.7 1107.9L1863.8 1157.9L1864.1 1153.2L1864.4 1115.4L1864.5 1111.7L1864.9 1172.6L1865.1 1156.3L1865.1 1099.8L1865.5 1173.2L1865.7 1124.6L1866.1 1150.5L1866.4 1100.6L1866.7 1112.9L1866.9 1177.1L1867.4 1124.6L1867.4 1183L1867.6 1092.8L1867.9 1149.3L1868 1115.1L1868.3 1155.1L1868.7 1126.8L1868.9 1167.9L1869 1133L1869.4 1172.5L1869.6 1236.6L1869.7 1110.6L1870 1190.4L1870.3 1138.7L1870.8 1107.7L1871 1164.6L1871.1 1148.5L1871.5 1121.8L1871.8 1131.2L1871.9 1184L1872 1092.7L1872.3 1160.5L1872.5 1165.2L1872.9 1129.4L1873.1 1173.5L1873.4 1135.1L1873.7 1115.6L1873.9 1179.1L1874.2 1125L1874.5 1196.6L1874.6 1202.9L1874.7 1107.2L1875 1169.9L1875.3 1114.1L1875.6 1122.8L1875.9 1172.9L1876.1 1196.2L1876.4 1125.5L1876.7 1133.4L1876.9 1167.8L1877.1 1175.7L1877.3 1153.4L1877.6 1201.7L1877.7 1127.5L1878 1127.6L1878.2 1192.2L1878.5 1120.7L1878.8 1162L1879.1 1202.1L1879.2 1133.2L1879.8 1132.4L1879.9 1203.6L1880.3 1125.8L1880.3 1169.2L1880.8 1187.8L1881 1134.6L1881.2 1194.1L1881.3 1131.2L1881.7 1160.9L1881.8 1124.5L1882.2 1173.3L1882.3 1123L1882.8 1215.7L1882.9 1112.7L1883.1 1120L1883.4 1182.5L1883.7 1138.3L1883.8 1174.9L1884.1 1120.2L1884.4 1207.3L1884.6 1172L1884.9 1135L1885.3 1191.3L1885.4 1116.1L1885.5 1130.1L1885.9 1212.9L1886.1 1186.5L1886.2 1115.7L1886.7 1172.8L1886.9 1099.7L1887.1 1139.8L1887.4 1192L1887.6 1134.9L1887.7 1182.6L1888.1 1197.6L1888.2 1133.2L1888.7 1183L1888.7 1098.3L1889.1 1212.6L1889.4 1130.3L1889.9 1215.9L1889.9 1109.6L1890.1 1208L1890.4 1111.6L1890.8 1174.4L1890.9 1127.6L1891.1 1144.3L1891.3 1202.9L1891.6 1126.1L1891.8 1185.9L1892.4 1178.2L1892.5 1106.2L1892.6 1122.2L1893 1182.4L1893.1 1177.6L1893.4 1111.5L1893.7 1160.9L1893.9 1112.7L1894.1 1168.4L1894.2 1131.9L1894.6 1123.7L1894.8 1158.7L1895.1 1195.8L1895.4 1107.6L1895.7 1165.2L1895.8 1116.7L1896.3 1130.4L1896.4 1198.8L1896.6 1169.1L1896.9 1101.7L1897.4 1097.9L1897.5 1155.2L1897.7 1094L1898 1159.8L1898.3 1114.8L1898.5 1191.2L1898.5 1175.4L1898.6 1120.7L1899.3 1143.9L1899.4 1113.2L1899.8 1106.4L1899.9 1176.2L1900.4 1166.8L1900.5 1088.5L1900.6 1168.3L1900.9 1096.4L1901.3 1165.1L1901.3 1134.4L1901.8 1108.7L1901.9 1169.9L1902.2 1091.2L1902.3 1152.3L1902.5 1160.5L1902.6 1103.7L1903.3 1087.3L1903.4 1130.9L1903.5 1157.5L1903.8 1088.6L1904.1 1157.8L1904.3 1090L1904.6 1050.1L1904.8 1136.8L1905.1 1066L1905.3 1111.1L1905.5 1059.5L1905.9 1118.6L1906.1 1113.8L1906.2 1039.3L1906.7 1096.5L1906.9 1043.3L1907 1055.6L1907.2 1114.8L1907.8 1093.3L1907.9 1054L1908.2 1099.9L1908.2 1029.1L1908.8 1022.3L1909 1113.1L1909.1 1079.3L1909.4 1009.9L1909.6 987.6L1910 1066.6L1910.2 1070.4L1910.4 989.7L1910.6 995.3L1910.7 1054.9L1911.2 955.5L1911.3 1058.4L1911.5 1047.4L1911.9 945.7L1912.3 941.9L1912.5 1028.5L1912.6 1052.4L1912.8 964L1913.1 1012.1L1913.2 863.2L1913.7 1080.7L1913.9 936.8L1914.3 967.9L1914.4 1059.3L1914.5 974.4L1914.9 1037.7L1915.2 1032.5L1915.2 965.2L1915.5 988.4L1916 1084.7L1916.2 1079.2L1916.4 1016.1L1916.8 1084.4L1916.9 1002.5L1917 1061.1L1917.3 998.3L1917.5 992.9L1917.9 1094.2L1918.2 1100.2L1918.4 1029.8L1918.8 1017.3L1918.9 1097.3L1919 1045.6L1919.1 1090.6L1919.7 1069.1L1919.9 1016.8L1920.1 1090.2L1920.3 1036.1L1920.6 1025L1921 1118.9L1921.1 1099.4L1921.3 1047.8L1921.5 1103L1922 1033.8L1922.1 1032.7L1922.3 1135.4L1922.9 1050.5L1923 1121.5L1923.1 1045L1923.2 1200.8L1923.6 1046.3L1923.6 1138.5L1924.2 1125.8L1924.3 1072.3L1924.6 1130L1924.9 1075.7L1925.1 1111.7L1925.3 1065.6L1925.6 1148.8L1925.9 1051L1926.1 1051.4L1926.2 1113.5L1926.6 1126.4L1926.8 1083.9L1927 1052.3L1927.2 1118.4L1927.6 1070.7L1927.9 1126.9L1928.4 1051L1928.5 1142.3L1928.8 1118.2L1928.9 1075.9L1929.3 1057.4L1929.4 1104.8L1929.7 1154.6L1929.9 1045.6L1930 1046.8L1930.5 1100.9L1930.5 1062.1L1930.9 1132.4L1931.3 1127.1L1931.4 1052.9L1931.6 1138.2L1931.8 1050.5L1932.4 1114.4L1932.5 1072.4L1932.9 1065.6L1932.9 1140.1L1933.4 1049.3L1933.5 1121.9L1933.7 1118.7L1933.9 1061.4L1934 1122.5L1934.2 1058.9L1934.5 1132L1934.6 1076.7L1935.2 1159.9L1935.4 1066.9L1935.7 1069.3L1936 1120.5L1936.1 1064.1L1936.2 1129.3L1936.5 1128.7L1936.6 1069.7L1937.1 1111.7L1937.2 1063.8L1937.5 1140.1L1937.7 1074.3L1938.1 1060.1L1938.3 1107.2L1938.6 1072L1938.8 1143.3L1939.2 1102.5L1939.5 1059.1L1939.8 1075.7L1939.9 1106.6L1940.2 1106.7L1940.4 1059.9L1940.7 1115.8L1940.9 1071.4L1941.2 1051.2L1941.2 1157.8L1941.6 1072.2L1941.8 1114.7L1942.3 1109.6L1942.3 1036.6L1942.6 1050.6L1942.8 1106.6L1943 1100.7L1943.5 1042.1L1943.7 1107L1943.9 1044L1944.3 1053.6L1944.4 1105.5L1944.5 1053L1944.7 1106L1945 1040.3L1945.2 1080.1L1945.6 1091L1945.7 1026.6L1946.2 1114.1L1946.2 1030.9L1946.5 1118.7L1946.8 1026.3L1947 1019.9L1947.5 1075.8L1947.5 1084.7L1947.7 1023L1948.2 1081.2L1948.4 1024.4L1948.5 1057.1L1948.7 1014.1L1949.1 1024.8L1949.3 1063.8L1949.7 1061.1L1949.9 1005.7L1950.2 1053.3L1950.5 1009.3L1950.7 1021.2L1950.8 1070.5L1951.2 994.4L1951.4 1039.2L1951.6 1065.6L1952 988L1952.1 1046.9L1952.5 974.1L1952.6 1021.5L1952.9 975L1953 1040L1953.1 971L1953.8 971.8L1953.9 1030.3L1954.1 1029.3L1954.3 945.1L1954.9 958.6L1955 1014.9L1955.1 996.2L1955.4 945.5L1955.5 1010.3L1955.8 902.2L1956.3 993.8L1956.4 937.7L1956.5 939.4L1956.8 989L1957.2 949.7L1957.3 1019.3L1957.6 1033.9L1957.7 964L1958.2 965.7L1958.4 1000.5L1958.6 997.4L1958.8 1054L1959.1 1012.3L1959.4 1067.2L1959.6 998.9L1959.8 1051.8L1960.1 1006.9L1960.5 1058.2L1960.6 1062.9L1960.8 1020.2L1961.1 1022.9L1961.2 1099.8L1961.6 1042.7L1962 1109L1962.3 1064.2L1962.4 1099.9L1962.7 1105.5L1962.9 1061.8L1963.1 1105.8L1963.4 1055.9L1963.5 1142.9L1963.7 1083.6L1964.4 1079.7L1964.5 1132.4L1964.7 1075.7L1964.9 1133L1965 1140.2L1965.5 1083.1L1965.7 1144.2L1965.9 1096.7L1966.2 1095L1966.3 1162.5L1966.8 1180.9L1966.8 1111.7L1967.2 1107L1967.4 1168.1L1967.8 1115.9L1967.9 1191.9L1968.3 1107.2L1968.4 1162.6L1968.6 1105.2L1968.8 1174.8L1969.3 1121.3L1969.4 1174.4L1969.8 1197.7L1969.8 1129.7L1970.1 1193.6L1970.2 1148.9L1970.9 1142.3L1971 1193.3L1971.2 1192.9L1971.3 1141.7L1971.7 1158.3L1971.9 1199.8L1972.2 1196.5L1972.3 1132.1L1972.6 1137.5L1972.9 1192.4L1973.1 1154.6L1973.1 1234.9L1973.6 1165.9L1973.7 1209.6L1974.2 1233.2L1974.5 1155.3L1974.7 1208.8L1975 1172L1975 1174.6L1975.3 1214.9L1975.5 1184.5L1975.7 1209.7L1976.3 1168.6L1976.5 1235.2L1976.8 1224.2L1976.9 1185.8L1977.3 1178.2L1977.4 1233L1977.6 1189L1978 1233.1L1978.1 1191.9L1978.4 1231.3L1978.7 1261L1978.9 1202L1979.4 1193.8L1979.5 1246L1979.6 1270.6L1979.8 1191.4L1980.1 1207.5L1980.3 1266.2L1980.6 1249L1981 1202.5L1981.2 1270.8L1981.5 1205.9L1981.6 1214.9L1981.9 1278L1982.2 1286.8L1982.4 1217.4L1982.8 1215.5L1982.9 1269.5L1983.3 1231.6L1983.3 1266L1983.6 1211.5L1983.8 1268.9L1984.1 1203.2L1984.2 1275.4L1984.6 1215.8L1984.7 1276.3L1985.4 1217.5L1985.4 1290.5L1985.7 1214.6L1985.8 1279.9L1986 1272.5L1986.4 1224.3L1986.6 1220.3L1986.8 1276.2L1987.1 1270.7L1987.2 1227.7L1987.5 1261.8L1987.9 1230.7L1988.1 1219.6L1988.3 1297.1L1988.6 1235.2L1988.9 1296.3L1989.2 1291.6L1989.5 1227.5L1989.7 1286.7L1990 1218.2L1990.2 1237.9L1990.4 1295.5L1990.6 1244L1990.7 1294.9L1991 1237L1991.2 1291.1L1991.5 1310.9L1991.8 1244.3L1992.4 1297.7L1992.5 1233.5L1992.5 1242.2L1992.6 1332.7L1993.3 1244.8L1993.4 1296.1L1993.6 1257.7L1993.8 1310.5L1994.4 1255.1L1994.5 1305.5L1994.6 1309.5L1994.7 1259.6L1995.2 1313.8L1995.4 1260.9L1995.7 1266.9L1995.9 1321.5L1996.1 1251.2L1996.1 1325.9L1996.5 1254.8L1996.9 1320.4L1997.2 1318.1L1997.5 1264L1997.7 1277.6L1997.9 1313.1L1998.1 1344.7L1998.3 1259.5L1998.6 1259.7L1998.7 1343.5L1999 1325.5L1999.2 1255.6L1999.9 1274.6L2000 1337.9L2000.2 1323.7L2000.4 1262.2L2000.8 1252.7L2001 1336.8L2001.2 1331.1L2001.4 1263.1L2001.6 1340.1L2001.9 1276.1L2002.1 1272.4L2002.5 1351.2L2002.6 1328.8L2002.7 1286.1L2003.3 1297.6L2003.4 1341.3L2003.6 1294.5L2003.8 1358.7L2004.2 1281.8L2004.3 1329.1L2004.8 1286.7L2004.9 1347L2005.2 1329.5L2005.4 1293.4L2005.5 1347.7L2005.8 1302.4L2006.3 1288.2L2006.3 1329.6L2006.7 1375.3L2006.7 1293.3L2007.3 1348.1L2007.5 1291.2L2007.6 1344.9L2007.6 1314.3L2008.4 1351.4L2008.4 1302.4L2008.6 1364.1L2008.6 1302.8L2009.2 1306.8L2009.3 1362.5L2009.7 1375.9L2009.8 1303.4L2010.2 1347.1L2010.5 1302.9L2010.6 1307.5L2010.7 1363.4L2011.1 1346.4L2011.5 1303.5L2011.5 1354L2011.7 1299L2012.1 1362.5L2012.4 1293.2L2012.5 1309.5L2013 1352.7L2013.1 1313.7L2013.1 1372.6L2013.6 1365.7L2014 1307L2014 1359L2014.2 1305.4L2014.5 1347.3L2014.6 1276.1L2015.2 1354.4L2015.5 1306.3L2015.9 1380.1L2016 1304L2016.4 1309.5L2016.4 1367.5L2016.8 1304.8L2016.9 1360.7L2017.1 1292.6L2017.4 1367.1L2017.6 1303.5L2017.9 1364.1L2018.2 1309.8L2018.3 1369.4L2018.9 1375.2L2019 1304.4L2019.4 1356.9L2019.4 1303.3L2019.5 1303.2L2019.6 1358.9L2020.3 1305.2L2020.5 1366.5L2020.6 1365.5L2020.6 1300.2L2021.1 1308.1L2021.2 1362L2021.7 1309.4L2021.8 1383.9L2022 1385.9L2022.2 1317.1L2022.5 1371.2L2022.7 1305.6L2023.1 1410.9L2023.5 1319.4L2023.7 1317.7L2024 1367.3L2024.1 1401.4L2024.2 1315.5L2024.5 1303.7L2024.8 1379.2L2025.1 1309.6L2025.1 1379.7L2025.6 1370.9L2025.9 1302.7L2026.1 1373.4L2026.3 1319.2L2026.6 1377.4L2026.9 1323.6L2027.2 1322.1L2027.4 1377.1L2027.6 1379.7L2027.9 1318.2L2028.2 1334.5L2028.2 1358.7L2028.6 1405.8L2028.8 1307.1L2029.3 1309.8L2029.3 1408L2029.6 1374.3L2029.9 1302.1L2030.1 1310.3L2030.1 1375.3L2030.8 1373.6L2030.9 1301.4L2031.1 1307.4L2031.3 1388.9L2031.6 1319.7L2031.9 1380.8L2032.3 1364.5L2032.4 1301.7L2032.7 1308.1L2032.7 1396.4L2033.3 1363.8L2033.3 1323.6L2033.6 1353.4L2033.8 1326.7L2034.3 1383.6L2034.4 1318.6L2034.5 1319.4L2034.9 1386.5L2035.3 1325L2035.4 1395.9L2035.9 1326.8L2036 1379.5L2036 1304L2036.5 1410.5L2036.5 1304.7L2036.8 1389.8L2037 1397.6L2037.2 1311.6L2037.8 1396.7L2037.9 1309.1L2038.1 1319L2038.2 1365.3L2038.6 1313.7L2038.9 1396L2039.1 1358L2039.5 1316L2039.7 1374.8L2040 1319.2L2040.3 1385L2040.4 1307.8L2040.8 1307.4L2040.9 1373L2041.3 1318.8L2041.4 1390L2041.8 1323L2041.9 1422.1L2042.2 1323.5L2042.5 1381.9L2042.5 1314.9L2042.8 1382.8L2043.3 1393.2L2043.4 1299.8L2043.6 1393.5L2043.7 1315.7L2044.1 1407.3L2044.2 1314.8L2044.5 1389.1L2044.6 1311.1L2045.1 1388.5L2045.2 1313.8L2045.8 1413.6L2046 1312.1L2046.1 1392.2L2046.2 1310.5L2046.8 1313.6L2046.9 1388L2047.3 1300.5L2047.3 1374.5L2047.5 1338.5L2047.9 1381.4L2048.1 1401.9L2048.4 1309.7L2048.7 1400.2L2048.9 1320.9L2049.2 1382.9L2049.4 1317.1L2049.5 1323.4L2049.6 1373L2050.3 1319.2L2050.4 1381.3L2050.6 1432L2050.9 1319L2051.4 1315.1L2051.5 1417.7L2051.8 1391.5L2052 1303.2L2052.1 1300.1L2052.5 1403.2L2052.7 1327.7L2052.9 1387.7L2053.1 1387.1L2053.1 1319.4L2053.8 1387.2L2053.9 1314.2L2054.3 1336.1L2054.4 1395.3L2054.9 1323.9L2054.9 1396.6L2055.2 1319.2L2055.5 1368.3L2055.5 1417.7L2056 1299.3L2056.1 1321L2056.4 1421.5L2056.6 1311.7L2056.8 1399.3L2057.1 1317.2L2057.3 1399.6L2057.6 1372.1L2057.8 1317.9L2058.1 1390.3L2058.2 1314.3L2058.5 1332.7L2058.9 1430.8L2059.1 1316.4L2059.2 1397L2059.6 1389.9L2059.9 1305.7L2060.3 1374.5L2060.4 1317.6L2060.7 1313.2L2060.9 1386.7L2061 1301.8L2061.4 1377.7L2061.5 1327.7L2061.7 1396.6L2062 1413.7L2062.1 1296.5L2062.9 1371.4L2063 1287.3L2063.1 1413.5L2063.4 1315.1L2063.5 1387.2L2063.5 1298L2064.2 1389.6L2064.4 1319.6L2064.7 1391.2L2065 1305.9L2065.2 1376.6L2065.3 1316L2065.6 1309L2065.6 1381.4L2066.1 1385.7L2066.3 1323.2L2066.6 1373.9L2066.7 1318L2067.1 1393.8L2067.2 1321.4L2067.6 1305.1L2067.7 1402.9L2068.2 1407.4L2068.3 1321.1L2068.5 1398.3L2068.8 1304.1L2069.2 1316.1L2069.5 1413.1L2069.8 1384.2L2069.9 1309.7L2070 1406.6L2070.4 1320.1L2070.6 1318.3L2070.8 1383.6L2071 1311.3L2071.4 1384.4L2071.7 1381.5L2071.9 1319.9L2072.1 1402.6L2072.2 1316.2L2072.7 1406.3L2072.8 1297.5L2073.1 1318.2L2073.2 1386.1L2073.9 1323.8L2074 1388.3L2074.3 1304.4L2074.4 1393.8L2074.5 1307.1L2074.8 1406.4L2075.1 1421.9L2075.2 1286L2075.8 1402.4L2076 1316.3L2076.1 1329L2076.1 1410.5L2076.6 1371.3L2076.7 1307.2L2077.3 1391.8L2077.5 1306.1L2077.6 1315.2L2077.9 1393.9L2078.1 1394.4L2078.2 1307.6L2078.5 1303L2079 1386.8L2079.1 1377.1L2079.5 1329.8L2079.6 1394.9L2079.8 1305.8L2080.2 1409.9L2080.3 1319.7L2080.7 1388.3L2080.9 1305.4L2081.1 1414.8L2081.4 1326.1L2081.8 1401.6L2081.9 1318.1L2082.4 1401.3L2082.4 1297.1L2082.7 1364L2082.8 1328.8L2083.2 1402.2L2083.4 1323.5L2083.6 1422.1L2083.7 1288.3L2084.1 1324.9L2084.3 1415.7L2084.5 1425L2084.5 1316L2085.1 1392.5L2085.2 1301.5L2085.9 1396.8L2085.9 1307.3L2086 1310.7L2086.3 1386.5L2086.6 1306.3L2086.7 1384.9L2087 1500L2087.1 1295.5L2087.5 1320.7L2087.8 1407.8L2088.1 1313.5L2088.2 1400L2088.6 1424.6L2088.9 1318.3L2089.4 1313.7L2089.4 1386L2089.5 1402.5L2089.5 1306.5L2090.3 1377.7L2090.4 1308.3L2091 1319.1L2091 1428.4L2091.5 1383.1L2091.5 1317.8L2091.8 1307.2L2091.9 1377.5L2092.3 1314.1L2092.3 1409L2092.5 1322.8L2092.7 1386.2L2093.1 1399.1L2093.4 1314.4L2093.6 1305.3L2093.6 1378.1L2094.1 1405.1L2094.3 1326.2L2094.6 1403.3L2094.6 1321.1L2095.1 1316.5L2095.3 1395.5L2095.8 1445.3L2095.9 1296L2096.1 1320.9L2096.2 1388.9L2096.8 1436.6L2096.9 1315.2L2097.3 1386.3L2097.3 1307.2L2097.7 1389.9L2097.8 1314.5L2098.3 1392.5L2098.5 1308.6L2098.7 1327.7L2098.8 1381.5L2099.4 1421.3L2099.5 1312.3L2099.6 1305.6L2099.9 1406L2100.3 1294L2100.4 1402.7L2100.7 1364.6L2100.8 1315.1L2101 1307.9L2101.4 1411.5L2101.8 1316.9L2101.9 1396.7L2102.4 1307.7L2102.5 1393.8L2102.7 1392.5L2102.7 1289.8L2103 1364.8L2103.3 1306.2L2103.6 1375L2103.7 1307L2104.3 1404.8L2104.3 1310.8L2104.8 1388.4L2104.8 1316.5L2105.1 1383.5L2105.4 1309.3L2105.9 1395.1L2106 1316L2106 1392.6L2106.5 1302.3L2106.7 1314.2L2106.8 1387L2107 1411.9L2107.4 1327.1L2107.7 1415L2107.8 1310.5L2108.1 1400.3L2108.2 1318.1L2108.9 1317.7L2108.9 1376.2L2109.2 1396L2109.4 1300.4L2109.7 1405.5L2109.8 1304.9L2110 1310.9L2110.5 1400.2L2110.8 1391.4L2110.9 1308.3L2111.2 1392.7L2111.3 1306.5L2111.5 1318.7L2111.7 1411.1L2112 1380.9L2112.2 1289.7L2112.6 1401.6L2112.9 1311.1L2113.2 1422.7L2113.2 1317.7L2113.8 1316L2113.8 1382.5L2114.2 1427.4L2114.5 1314.4L2114.5 1288.4L2115 1429L2115.3 1320.3L2115.3 1397.7L2115.6 1295.7L2116 1378.1L2116.1 1322.2L2116.3 1392.2L2116.6 1308.2L2116.7 1451.9L2117.3 1379.4L2117.4 1309.3L2117.8 1387.9L2118 1322.2L2118.2 1309.8L2118.3 1393.1L2118.5 1390.7L2118.7 1303.8L2119.1 1390.3L2119.4 1290.6L2119.6 1298.7L2119.9 1378.6L2120.2 1394.1L2120.4 1317.6L2120.6 1367.1L2120.7 1307.4L2121.1 1407.3L2121.2 1306.7L2121.5 1324.3L2121.6 1415.6L2122.2 1388L2122.5 1306.9L2122.5 1389.6L2122.5 1305.8L2123 1313.5L2123.2 1388.3L2123.9 1401.9L2124 1312.6L2124.3 1324.9L2124.3 1409.4L2124.7 1410.7L2124.9 1305L2125.2 1319.7L2125.3 1407.2L2125.5 1378.9L2125.9 1323.6L2126 1401.5L2126.3 1328.9L2126.6 1394L2126.7 1316.3L2127.2 1304.8L2127.4 1398.1L2127.5 1324.5L2128 1395.7L2128.4 1383.5L2128.4 1309.7L2128.8 1315.3L2129 1384.6L2129.1 1327.4L2129.2 1392.1L2129.8 1309.1L2129.9 1386.1L2130.2 1393.8L2130.3 1289.4L2130.6 1319.3L2131 1402.1L2131.3 1313.8L2131.4 1409.3L2131.6 1396.3L2131.8 1310.1L2132.2 1398.7L2132.3 1300.9L2132.7 1312.7L2132.7 1403L2133.1 1317.4L2133.4 1402.2L2133.5 1388.8L2133.7 1322.4L2134.4 1315L2134.5 1387.4L2134.5 1326.9L2134.8 1393L2135.1 1316.2L2135.3 1407.5L2135.5 1310.7L2135.8 1402.6L2136 1308L2136.3 1384.8L2136.6 1300.7L2136.8 1384.4L2137.1 1422.1L2137.2 1323.6L2137.6 1306.5L2137.7 1396L2138.1 1420.1L2138.4 1305.8L2138.7 1404.8L2139 1310.9L2139.2 1322.5L2139.3 1408.5L2139.6 1393.1L2139.7 1317.6L2140.3 1321.2L2140.4 1456.3L2140.8 1318.5L2140.8 1399.3L2141.2 1313.5L2141.4 1385.2L2141.6 1385.6L2142 1315.1L2142.1 1306.1L2142.5 1386.3L2142.7 1416.7L2142.9 1309.6L2143.4 1424.9L2143.4 1320.4L2143.7 1304.7L2143.7 1399.8L2144.2 1388.8L2144.3 1302.7L2144.8 1416.6L2145 1308.1L2145.3 1306.8L2145.4 1423.1L2145.7 1385.2L2145.9 1315.6L2146 1307.6L2146.1 1411.4L2146.8 1326.2L2147 1387.3L2147.3 1311.7L2147.3 1409.7L2147.5 1387.5L2147.6 1313.7L2148.2 1314.4L2148.3 1414.8L2148.8 1396L2149 1297.3L2149 1306.2L2149.3 1384.8L2149.8 1397.2L2150 1312.1L2150.3 1406.2L2150.3 1324.5L2150.8 1304.9L2150.9 1402.1L2151.3 1426.7L2151.4 1304.5L2151.8 1435.4L2151.9 1306.1L2152.2 1298.9L2152.5 1395.9L2152.8 1326L2152.9 1391.6L2153.1 1414.2L2153.5 1316.2L2153.8 1302.6L2153.8 1411L2154.4 1312.2L2154.4 1386.8L2154.7 1306.7L2154.8 1400.6L2155.2 1387.8L2155.3 1319.1L2155.6 1315.7L2155.7 1396.6L2156 1305.1L2156.4 1391.6L2156.8 1381L2156.9 1311.2L2157.1 1405.6L2157.4 1300.4L2157.6 1318.2L2157.9 1389.9L2158.3 1391L2158.4 1301.8L2158.6 1319.7L2158.8 1399.2L2159.1 1393.1L2159.3 1307.1L2159.5 1312.3L2159.7 1422.7L2160 1316.9L2160.2 1391.3L2160.7 1397.4L2160.8 1316.4L2161.1 1402.9L2161.5 1310.6L2161.6 1438.3L2161.6 1321.1L2162.3 1322.6L2162.5 1406L2162.5 1380.4L2162.8 1310L2163.2 1295.8L2163.3 1387.3L2163.6 1312.5L2163.6 1416.3L2164.1 1390.6L2164.4 1308.7L2164.6 1319.5L2164.6 1399.6L2165 1385L2165.2 1312.7L2165.6 1375.6L2165.8 1318L2166 1419.5L2166.2 1318.1L2166.6 1414L2166.9 1316.6L2167.1 1311.8L2167.4 1408L2167.8 1384.6L2167.9 1313.9L2168.2 1399.2L2168.3 1298L2168.6 1384.5L2168.8 1317.2L2169.3 1298.1L2169.4 1396.2L2169.8 1379L2169.9 1316.7L2170.2 1415.1L2170.5 1312.6L2170.6 1316.3L2170.6 1388.8L2171.5 1317.4L2171.5 1379.8L2171.6 1314.9L2171.7 1393L2172.2 1384.9L2172.4 1306.9L2172.7 1386L2172.9 1307.5L2173.1 1310.1L2173.4 1378.1L2173.6 1405.2L2173.9 1309.1L2174.4 1423.2L2174.4 1300.6L2174.6 1316.7L2174.9 1396.7L2175 1301.4L2175.2 1393L2175.7 1298.7L2176 1385.6L2176 1311.2L2176.1 1395.1L2176.6 1317.2L2176.9 1393.7L2177 1316.3L2177.4 1378.9L2177.8 1305.3L2177.9 1379.5L2178.1 1313.7L2178.3 1391.3L2178.6 1309.7L2178.9 1397.5L2179.3 1313.2L2179.4 1394.5L2179.7 1313.2L2179.8 1380.8L2180.2 1309.5L2180.4 1408.1L2180.5 1314.4L2181 1389.1L2181.1 1296.9L2181.3 1413.7L2181.6 1385L2181.8 1313.4L2182.1 1308.8L2182.5 1414.7L2182.7 1399.9L2182.9 1308.3L2183.2 1302L2183.2 1378.7L2183.8 1321.8L2184 1398.4L2184 1308.4L2184.4 1395.8L2184.6 1327.5L2184.6 1372.9L2185 1395.2L2185.1 1306.7L2185.6 1386.7L2185.7 1323.2L2186.2 1313.2L2186.5 1387.8L2186.8 1391.1L2186.9 1307L2187.2 1301.8L2187.4 1396.1L2187.8 1397.9L2188 1307.5L2188 1383.2L2188.5 1319.2L2188.8 1319.8L2188.9 1392.9L2189.3 1319L2189.3 1389.9L2189.6 1384.5L2190 1314.6L2190.1 1303.3L2190.4 1391L2190.8 1398.8L2191 1300.1L2191.1 1396.8L2191.3 1318.3L2191.7 1304.2L2191.9 1396.6L2192.2 1305.5L2192.3 1407.1L2192.6 1311.6L2192.9 1432.9L2193 1351.3L2193.1 1318.6"/>
</g>
<path d="M801.2 58.0V1494.0" stroke="#262626" stroke-width="3.8"/>
<text class="a" transform="translate(869.0 1472.0) rotate(-90) scale(1 1.041)">100 s</text>
<path d="M1181.6 58.0V1494.0" stroke="#262626" stroke-width="3.8"/>
<text class="a" transform="translate(1249.4 1472.0) rotate(-90) scale(1 1.041)">Tp = 15.1 s</text>
<path d="M1727.8 58.0V1494.0" stroke="#262626" stroke-width="3.6"/>
<text class="a" transform="translate(1795.5 1472.0) rotate(-90) scale(1 1.041)">1 s</text>
<text class="t" transform="translate(257.6 1606.7) scale(1 1.041)">10</text>
<text class="t e m" transform="translate(339.2 1574.5) scale(1 1.041)">−</text>
<text class="t e" transform="translate(384.1 1575.7) scale(1 1.041)">3</text>
<text class="t" transform="translate(720.9 1606.7) scale(1 1.041)">10</text>
<text class="t e m" transform="translate(802.5 1574.5) scale(1 1.041)">−</text>
<text class="t e" transform="translate(847.4 1575.7) scale(1 1.041)">2</text>
<text class="t" transform="translate(1184.1 1606.7) scale(1 1.041)">10</text>
<text class="t e m" transform="translate(1265.7 1574.5) scale(1 1.041)">−</text>
<text class="t e" transform="translate(1310.6 1575.7) scale(1 1.041)">1</text>
<text class="t" transform="translate(1671.5 1606.7) scale(1 1.041)">10</text>
<text class="t e" transform="translate(1753.8 1575.7) scale(1 1.041)">0</text>
<text class="t" transform="translate(2134.8 1606.7) scale(1 1.041)">10</text>
<text class="t e" transform="translate(2217.0 1575.7) scale(1 1.041)">1</text>
<text class="t" transform="translate(279.1 94.8) scale(1 1.041)" text-anchor="end">10</text>
<text class="t e" transform="translate(284.2 63.8) scale(1 1.041)">5</text>
<text class="t" transform="translate(279.1 573.0) scale(1 1.041)" text-anchor="end">10</text>
<text class="t e" transform="translate(284.2 542.0) scale(1 1.041)">0</text>
<text class="t" transform="translate(234.9 1046.9) scale(1 1.041)" text-anchor="end">10</text>
<text class="t e m" transform="translate(239.3 1014.7) scale(1 1.041)">−</text>
<text class="t e" transform="translate(284.2 1015.9) scale(1 1.041)">5</text>
<text class="t" transform="translate(206.0 1524.5) scale(1 1.041)" text-anchor="end">10</text>
<text class="t e m" transform="translate(210.4 1492.3) scale(1 1.041)">−</text>
<text class="t e" transform="translate(255.3 1493.5) scale(1 1.041)">10</text>
<text class="l" transform="translate(1262.6 1709.3) scale(1 0.990)" text-anchor="middle">log scale frequency (Hz)</text>
<text class="l" transform="translate(94.0 777.2) rotate(-90) scale(1 1.000)" text-anchor="middle">Direction (<tspan dx="1" dy="8" style="font-size:84px">°</tspan><tspan dx="1" dy="-8">/</tspan>Hz)</text>
<rect x="1607.7" y="101.9" width="539.8" height="178.9" fill="#fff" stroke="#262626" stroke-width="3.6"/>
<path d="M1624 151H1796.8" stroke="#00a3a6" stroke-width="3.6"/>
<path d="M1624 232H1796.8" stroke="#b35014" stroke-width="3.6"/>
<text class="g" transform="translate(1810.2 176.0) scale(1 1.030)">OpenFAST</text>
<text class="g" transform="translate(1810.2 257.7) scale(1 1.030)">FAST.Farm</text>
</svg>
</body></html>
